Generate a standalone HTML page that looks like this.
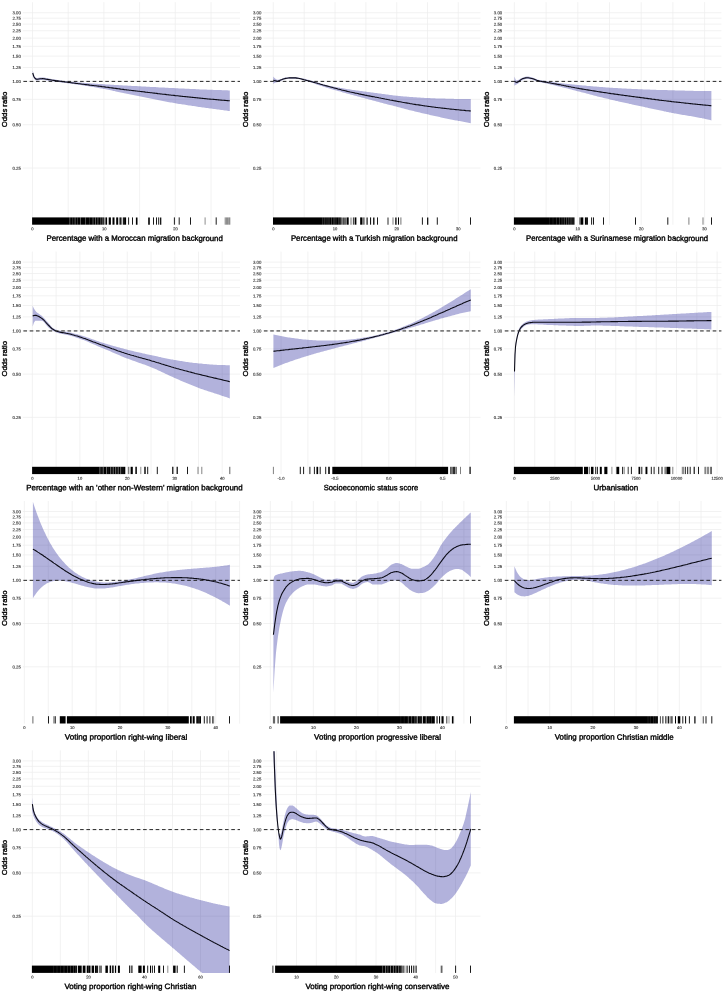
<!DOCTYPE html>
<html lang="en"><head><meta charset="utf-8"><title>Odds ratio smooth terms</title>
<style>
html,body{margin:0;padding:0;background:#fff}
body{width:724px;height:991px;overflow:hidden}
svg{display:block;font-family:"Liberation Sans",sans-serif}
</style></head><body>
<svg width="724" height="991" viewBox="0 0 724 991">
<rect width="724" height="991" fill="#fff"/>
<g id="p00">
<clipPath id="c00"><rect x="22.8" y="3" width="217.2" height="221.8"/></clipPath>
<path d="M22.8 12.7H240M22.8 18.2H240M22.8 24.1H240M22.8 30.7H240M22.8 38.1H240M22.8 46.4H240M22.8 56.1H240M22.8 67.5H240M22.8 81.4H240M22.8 99.4H240M22.8 124.7H240M22.8 168H240M32.5 2.2V224.8M68.2 2.2V224.8M103.9 2.2V224.8M139.6 2.2V224.8M175.3 2.2V224.8M211 2.2V224.8" stroke="#ededed" stroke-width="0.72" fill="none"/>
<g font-size="4.3" fill="#333" stroke="#333" stroke-width="0.13" text-anchor="end">
<text x="20.80" y="14.39" transform="rotate(0.04 20.80 14.39)">3.00</text>
<text x="20.80" y="19.82" transform="rotate(0.04 20.80 19.82)">2.75</text>
<text x="20.80" y="25.78" transform="rotate(0.04 20.80 25.78)">2.50</text>
<text x="20.80" y="32.37" transform="rotate(0.04 20.80 32.37)">2.25</text>
<text x="20.80" y="39.73" transform="rotate(0.04 20.80 39.73)">2.00</text>
<text x="20.80" y="48.07" transform="rotate(0.04 20.80 48.07)">1.75</text>
<text x="20.80" y="57.71" transform="rotate(0.04 20.80 57.71)">1.50</text>
<text x="20.80" y="69.10" transform="rotate(0.04 20.80 69.10)">1.25</text>
<text x="20.80" y="83.05" transform="rotate(0.04 20.80 83.05)">1.00</text>
<text x="20.80" y="101.03" transform="rotate(0.04 20.80 101.03)">0.75</text>
<text x="20.80" y="126.37" transform="rotate(0.04 20.80 126.37)">0.50</text>
<text x="20.80" y="169.69" transform="rotate(0.04 20.80 169.69)">0.25</text>
</g>
<g font-size="4.1" fill="#333" stroke="#333" stroke-width="0.13" text-anchor="middle">
<text x="32.50" y="230.30" transform="rotate(0.04 32.50 230.30)">0</text>
<text x="104.20" y="230.30" transform="rotate(0.04 104.20 230.30)">10</text>
<text x="175.50" y="230.30" transform="rotate(0.04 175.50 230.30)">20</text>
</g>
<path d="M32.7 70.6L33.9 75.1L35.2 77.2L36.4 78.1L37.7 78L38.9 77.8L40.1 77.6L41.4 77.5L42.6 77.4L43.9 77.5L45.1 77.8L46.3 78.1L47.6 78.3L48.8 78.5L50.1 78.8L51.3 79L52.5 79.2L53.8 79.4L55 79.6L56.3 79.8L57.5 80L58.7 80.2L60 80.4L61.2 80.6L62.5 80.7L63.7 80.9L64.9 81L66.2 81.2L67.4 81.3L68.6 81.5L69.9 81.6L71.1 81.7L72.4 81.8L73.6 81.9L74.8 82.1L76.1 82.2L77.3 82.3L78.6 82.4L79.8 82.5L81 82.6L82.3 82.7L83.5 82.8L84.8 82.9L86 83L87.2 83.1L88.5 83.2L89.7 83.3L91 83.4L92.2 83.5L93.4 83.5L94.7 83.6L95.9 83.7L97.2 83.8L98.4 83.9L99.6 84L100.9 84.1L102.1 84.1L103.4 84.2L104.6 84.3L105.8 84.4L107.1 84.5L108.3 84.5L109.6 84.6L110.8 84.7L112 84.8L113.3 84.8L114.5 84.9L115.8 85L117 85L118.2 85.1L119.5 85.2L120.7 85.2L122 85.3L123.2 85.4L124.4 85.5L125.7 85.5L126.9 85.6L128.2 85.7L129.4 85.7L130.6 85.8L131.9 85.9L133.1 85.9L134.3 86L135.6 86.1L136.8 86.1L138.1 86.2L139.3 86.3L140.5 86.3L141.8 86.4L143 86.5L144.3 86.5L145.5 86.6L146.7 86.7L148 86.7L149.2 86.8L150.5 86.9L151.7 86.9L152.9 87L154.2 87.1L155.4 87.1L156.7 87.2L157.9 87.3L159.1 87.4L160.4 87.4L161.6 87.5L162.9 87.5L164.1 87.6L165.3 87.7L166.6 87.7L167.8 87.8L169.1 87.9L170.3 87.9L171.5 88L172.8 88.1L174 88.1L175.3 88.2L176.5 88.2L177.7 88.3L179 88.4L180.2 88.4L181.5 88.5L182.7 88.5L183.9 88.6L185.2 88.7L186.4 88.7L187.7 88.8L188.9 88.8L190.1 88.9L191.4 89L192.6 89L193.9 89.1L195.1 89.1L196.3 89.2L197.6 89.2L198.8 89.3L200 89.4L201.3 89.4L202.5 89.5L203.8 89.5L205 89.6L206.2 89.6L207.5 89.7L208.7 89.7L210 89.8L211.2 89.8L212.4 89.8L213.7 89.9L214.9 89.9L216.2 90L217.4 90L218.6 90.1L219.9 90.1L221.1 90.1L222.4 90.2L223.6 90.2L224.8 90.3L226.1 90.3L227.3 90.3L228.6 90.4L229.8 90.4L229.8 111.1L228.6 110.9L227.3 110.8L226.1 110.6L224.8 110.5L223.6 110.3L222.4 110.1L221.1 110L219.9 109.8L218.6 109.6L217.4 109.5L216.2 109.3L214.9 109.1L213.7 108.9L212.4 108.8L211.2 108.6L210 108.4L208.7 108.3L207.5 108.1L206.2 107.9L205 107.7L203.8 107.6L202.5 107.4L201.3 107.2L200 107L198.8 106.9L197.6 106.7L196.3 106.5L195.1 106.3L193.9 106.1L192.6 106L191.4 105.8L190.1 105.6L188.9 105.4L187.7 105.2L186.4 105L185.2 104.8L183.9 104.6L182.7 104.5L181.5 104.3L180.2 104.1L179 103.9L177.7 103.7L176.5 103.5L175.3 103.2L174 103L172.8 102.8L171.5 102.6L170.3 102.4L169.1 102.2L167.8 101.9L166.6 101.7L165.3 101.5L164.1 101.2L162.9 101L161.6 100.8L160.4 100.5L159.1 100.3L157.9 100L156.7 99.8L155.4 99.5L154.2 99.3L152.9 99L151.7 98.8L150.5 98.5L149.2 98.3L148 98L146.7 97.8L145.5 97.5L144.3 97.3L143 97L141.8 96.8L140.5 96.5L139.3 96.3L138.1 96L136.8 95.8L135.6 95.5L134.3 95.3L133.1 95L131.9 94.8L130.6 94.5L129.4 94.3L128.2 94L126.9 93.7L125.7 93.5L124.4 93.2L123.2 93L122 92.7L120.7 92.4L119.5 92.2L118.2 91.9L117 91.7L115.8 91.4L114.5 91.1L113.3 90.9L112 90.6L110.8 90.3L109.6 90.1L108.3 89.8L107.1 89.6L105.8 89.3L104.6 89.1L103.4 88.9L102.1 88.6L100.9 88.4L99.6 88.2L98.4 88L97.2 87.7L95.9 87.5L94.7 87.3L93.4 87.1L92.2 86.9L91 86.7L89.7 86.5L88.5 86.3L87.2 86.1L86 85.9L84.8 85.7L83.5 85.5L82.3 85.3L81 85.1L79.8 85L78.6 84.8L77.3 84.6L76.1 84.4L74.8 84.2L73.6 84.1L72.4 83.9L71.1 83.7L69.9 83.5L68.6 83.4L67.4 83.2L66.2 83L64.9 82.9L63.7 82.7L62.5 82.6L61.2 82.4L60 82.3L58.7 82.1L57.5 82L56.3 81.8L55 81.7L53.8 81.5L52.5 81.3L51.3 81.2L50.1 81L48.8 80.8L47.6 80.6L46.3 80.4L45.1 80.1L43.9 79.9L42.6 79.8L41.4 79.9L40.1 80L38.9 80.2L37.7 80.4L36.4 80.5L35.2 79.9L33.9 78.5L32.7 75.6Z" fill="rgb(0,0,139)" fill-opacity="0.3" clip-path="url(#c00)"/>
<path d="M23.4 81.40H240" stroke="#1a1a1a" stroke-width="0.95" stroke-dasharray="3.6 2.7" fill="none"/>
<path d="M32.7 73L33.9 76.7L35.2 78.5L36.4 79.3L37.7 79.2L38.9 79L40.1 78.8L41.4 78.7L42.6 78.6L43.9 78.7L45.1 78.9L46.3 79.2L47.6 79.4L48.8 79.6L50.1 79.8L51.3 80L52.5 80.2L53.8 80.4L55 80.6L56.3 80.8L57.5 80.9L58.7 81.1L60 81.3L61.2 81.4L62.5 81.6L63.7 81.7L64.9 81.9L66.2 82L67.4 82.2L68.6 82.4L69.9 82.5L71.1 82.7L72.4 82.9L73.6 83L74.8 83.2L76.1 83.4L77.3 83.5L78.6 83.7L79.8 83.8L81 84L82.3 84.2L83.5 84.3L84.8 84.5L86 84.6L87.2 84.8L88.5 84.9L89.7 85.1L91 85.2L92.2 85.4L93.4 85.5L94.7 85.7L95.9 85.8L97.2 86L98.4 86.1L99.6 86.3L100.9 86.4L102.1 86.6L103.4 86.7L104.6 86.9L105.8 87.1L107.1 87.2L108.3 87.4L109.6 87.6L110.8 87.7L112 87.9L113.3 88.1L114.5 88.3L115.8 88.4L117 88.6L118.2 88.8L119.5 88.9L120.7 89.1L122 89.2L123.2 89.4L124.4 89.6L125.7 89.7L126.9 89.9L128.2 90L129.4 90.2L130.6 90.3L131.9 90.5L133.1 90.6L134.3 90.7L135.6 90.9L136.8 91L138.1 91.2L139.3 91.3L140.5 91.5L141.8 91.6L143 91.8L144.3 91.9L145.5 92.1L146.7 92.2L148 92.4L149.2 92.5L150.5 92.7L151.7 92.8L152.9 93L154.2 93.1L155.4 93.3L156.7 93.4L157.9 93.6L159.1 93.7L160.4 93.9L161.6 94L162.9 94.2L164.1 94.3L165.3 94.4L166.6 94.6L167.8 94.7L169.1 94.9L170.3 95L171.5 95.2L172.8 95.3L174 95.4L175.3 95.6L176.5 95.7L177.7 95.8L179 96L180.2 96.1L181.5 96.2L182.7 96.4L183.9 96.5L185.2 96.6L186.4 96.8L187.7 96.9L188.9 97L190.1 97.1L191.4 97.3L192.6 97.4L193.9 97.5L195.1 97.6L196.3 97.8L197.6 97.9L198.8 98L200 98.1L201.3 98.3L202.5 98.4L203.8 98.5L205 98.6L206.2 98.7L207.5 98.9L208.7 99L210 99.1L211.2 99.2L212.4 99.3L213.7 99.4L214.9 99.5L216.2 99.6L217.4 99.8L218.6 99.9L219.9 100L221.1 100.1L222.4 100.2L223.6 100.3L224.8 100.4L226.1 100.5L227.3 100.6L228.6 100.7L229.8 100.8" stroke="#0a0a14" stroke-width="1.08" fill="none" stroke-linejoin="round" clip-path="url(#c00)"/>
<path d="M128.6 217.4V224.7M132.5 217.4V224.7M153.5 217.4V224.7M156.5 217.4V224.7M158.7 217.4V224.7M174.4 217.4V224.7M179.2 217.4V224.7M190.5 217.4V224.7M216.2 217.4V224.7" stroke="#000" stroke-width="0.9" fill="none"/>
<path d="M136.7 217.4V224.7M149 217.4V224.7" stroke="#000" stroke-width="1.6" fill="none"/>
<path d="M160.7 217.4V224.7" stroke="#000" stroke-width="1.2" fill="none"/>
<path d="M205.1 217.4V224.7" stroke="#000" stroke-width="0.45" fill="none"/>
<path d="M225.2 217.4V224.7M226.4 217.4V224.7M227.6 217.4V224.7M228.8 217.4V224.7M229.8 217.4V224.7" stroke="#000" stroke-width="0.5" fill="none"/>
<rect x="32.1" y="217.4" width="72.3" height="7.3" fill="#000"/>
<rect x="105.4" y="217.4" width="1.7" height="7.3" fill="#000"/>
<rect x="108.7" y="217.4" width="2.2" height="7.3" fill="#000"/>
<rect x="112.5" y="217.4" width="2" height="7.3" fill="#000"/>
<rect x="116.2" y="217.4" width="2" height="7.3" fill="#000"/>
<rect x="119.5" y="217.4" width="2" height="7.3" fill="#000"/>
<rect x="122.8" y="217.4" width="3.3" height="7.3" fill="#000"/>
<path d="M69.8 217.2V224.9M75.1 217.2V224.9M80.5 217.2V224.9M93 217.2V224.9M95.5 217.2V224.9M97.9 217.2V224.9M100.8 217.2V224.9" stroke="#fff" stroke-opacity="0.7" stroke-width="0.5" fill="none"/>
<path d="M72.7 217.2V224.9M77.5 217.2V224.9M123.9 217.2V224.9" stroke="#fff" stroke-opacity="0.5" stroke-width="0.4" fill="none"/>
<path d="M85.5 217.2V224.9" stroke="#fff" stroke-opacity="0.6" stroke-width="0.5" fill="none"/>
<path d="M89.5 217.2V224.9" stroke="#fff" stroke-opacity="0.4" stroke-width="0.4" fill="none"/>
<path d="M102.9 217.2V224.9" stroke="#fff" stroke-opacity="0.8" stroke-width="0.6" fill="none"/>
<path d="M120.5 217.2V224.9" stroke="#fff" stroke-opacity="0.4" stroke-width="0.3" fill="none"/>
<text x="46.5" y="240.8" transform="rotate(0.03 46.5 240.8)" font-size="7.8" fill="#000" stroke="#000" stroke-width="0.36" textLength="176.3" lengthAdjust="spacingAndGlyphs">Percentage with a Moroccan migration background</text>
<text transform="translate(7.3 109.4) rotate(-90)" font-size="7.8" fill="#000" stroke="#000" stroke-width="0.36" text-anchor="middle" textLength="35.5" lengthAdjust="spacingAndGlyphs">Odds ratio</text>
</g>
<g id="p01">
<clipPath id="c01"><rect x="263.3" y="3" width="217.2" height="221.8"/></clipPath>
<path d="M263.3 12.7H480.5M263.3 18.2H480.5M263.3 24.1H480.5M263.3 30.7H480.5M263.3 38.1H480.5M263.3 46.4H480.5M263.3 56.1H480.5M263.3 67.5H480.5M263.3 81.4H480.5M263.3 99.4H480.5M263.3 124.7H480.5M263.3 168H480.5M273.3 2.2V224.8M304.2 2.2V224.8M335 2.2V224.8M365.9 2.2V224.8M396.7 2.2V224.8M427.5 2.2V224.8M458.3 2.2V224.8" stroke="#ededed" stroke-width="0.72" fill="none"/>
<g font-size="4.3" fill="#333" stroke="#333" stroke-width="0.13" text-anchor="end">
<text x="261.30" y="14.39" transform="rotate(0.04 261.30 14.39)">3.00</text>
<text x="261.30" y="19.82" transform="rotate(0.04 261.30 19.82)">2.75</text>
<text x="261.30" y="25.78" transform="rotate(0.04 261.30 25.78)">2.50</text>
<text x="261.30" y="32.37" transform="rotate(0.04 261.30 32.37)">2.25</text>
<text x="261.30" y="39.73" transform="rotate(0.04 261.30 39.73)">2.00</text>
<text x="261.30" y="48.07" transform="rotate(0.04 261.30 48.07)">1.75</text>
<text x="261.30" y="57.71" transform="rotate(0.04 261.30 57.71)">1.50</text>
<text x="261.30" y="69.10" transform="rotate(0.04 261.30 69.10)">1.25</text>
<text x="261.30" y="83.05" transform="rotate(0.04 261.30 83.05)">1.00</text>
<text x="261.30" y="101.03" transform="rotate(0.04 261.30 101.03)">0.75</text>
<text x="261.30" y="126.37" transform="rotate(0.04 261.30 126.37)">0.50</text>
<text x="261.30" y="169.69" transform="rotate(0.04 261.30 169.69)">0.25</text>
</g>
<g font-size="4.1" fill="#333" stroke="#333" stroke-width="0.13" text-anchor="middle">
<text x="273.30" y="230.30" transform="rotate(0.04 273.30 230.30)">0</text>
<text x="335.00" y="230.30" transform="rotate(0.04 335.00 230.30)">10</text>
<text x="396.70" y="230.30" transform="rotate(0.04 396.70 230.30)">20</text>
<text x="458.30" y="230.30" transform="rotate(0.04 458.30 230.30)">30</text>
</g>
<path d="M273.3 76.6L274.5 78.1L275.8 79.1L277 79.7L278.2 79.7L279.5 79.5L280.7 79.2L282 78.8L283.2 78.3L284.4 77.8L285.7 77.6L286.9 77.4L288.2 77.2L289.4 77.1L290.7 77.1L291.9 77.1L293.1 77.1L294.4 77.1L295.6 77.1L296.9 77.2L298.1 77.4L299.4 77.7L300.6 77.9L301.8 78.2L303.1 78.5L304.3 78.8L305.6 79.1L306.8 79.4L308.1 79.7L309.3 80L310.5 80.4L311.8 80.7L313 81.1L314.3 81.4L315.5 81.8L316.7 82.2L318 82.6L319.2 83L320.5 83.3L321.7 83.7L323 84.1L324.2 84.4L325.4 84.8L326.7 85.1L327.9 85.4L329.2 85.7L330.4 85.9L331.7 86.2L332.9 86.4L334.1 86.7L335.4 86.9L336.6 87.2L337.9 87.4L339.1 87.6L340.4 87.9L341.6 88.1L342.8 88.3L344.1 88.5L345.3 88.8L346.6 89L347.8 89.2L349.1 89.3L350.3 89.5L351.5 89.7L352.8 89.9L354 90.1L355.3 90.2L356.5 90.4L357.7 90.6L359 90.7L360.2 90.9L361.5 91.1L362.7 91.2L364 91.4L365.2 91.6L366.4 91.7L367.7 91.9L368.9 92.1L370.2 92.3L371.4 92.4L372.7 92.6L373.9 92.8L375.1 92.9L376.4 93.1L377.6 93.3L378.9 93.4L380.1 93.6L381.4 93.8L382.6 93.9L383.8 94.1L385.1 94.3L386.3 94.4L387.6 94.6L388.8 94.8L390 94.9L391.3 95.1L392.5 95.2L393.8 95.4L395 95.5L396.3 95.7L397.5 95.8L398.7 95.9L400 96L401.2 96.2L402.5 96.3L403.7 96.4L405 96.5L406.2 96.6L407.4 96.7L408.7 96.8L409.9 96.9L411.2 97L412.4 97.1L413.7 97.2L414.9 97.3L416.1 97.3L417.4 97.4L418.6 97.5L419.9 97.6L421.1 97.7L422.3 97.7L423.6 97.8L424.8 97.9L426.1 97.9L427.3 98L428.6 98.1L429.8 98.1L431 98.2L432.3 98.2L433.5 98.3L434.8 98.3L436 98.4L437.3 98.4L438.5 98.5L439.7 98.5L441 98.5L442.2 98.6L443.5 98.6L444.7 98.6L446 98.7L447.2 98.7L448.4 98.7L449.7 98.8L450.9 98.8L452.2 98.8L453.4 98.8L454.6 98.9L455.9 98.9L457.1 98.9L458.4 98.9L459.6 98.9L460.9 98.9L462.1 98.9L463.3 99L464.6 99L465.8 99L467.1 99L468.3 99L469.6 99L470.8 99L470.8 123.2L469.6 123L468.3 122.7L467.1 122.5L465.8 122.3L464.6 122.1L463.3 121.8L462.1 121.6L460.9 121.3L459.6 121.1L458.4 120.9L457.1 120.6L455.9 120.4L454.6 120.2L453.4 119.9L452.2 119.7L450.9 119.4L449.7 119.2L448.4 118.9L447.2 118.7L446 118.4L444.7 118.2L443.5 117.9L442.2 117.7L441 117.4L439.7 117.1L438.5 116.8L437.3 116.6L436 116.3L434.8 116L433.5 115.7L432.3 115.4L431 115.2L429.8 114.9L428.6 114.6L427.3 114.3L426.1 114L424.8 113.7L423.6 113.5L422.3 113.2L421.1 112.9L419.9 112.6L418.6 112.3L417.4 112L416.1 111.7L414.9 111.4L413.7 111.1L412.4 110.8L411.2 110.5L409.9 110.2L408.7 109.9L407.4 109.6L406.2 109.3L405 108.9L403.7 108.6L402.5 108.3L401.2 107.9L400 107.6L398.7 107.3L397.5 106.9L396.3 106.6L395 106.3L393.8 106L392.5 105.6L391.3 105.3L390 105L388.8 104.7L387.6 104.4L386.3 104L385.1 103.7L383.8 103.4L382.6 103.1L381.4 102.8L380.1 102.4L378.9 102.1L377.6 101.8L376.4 101.4L375.1 101.1L373.9 100.8L372.7 100.4L371.4 100.1L370.2 99.8L368.9 99.4L367.7 99.1L366.4 98.8L365.2 98.4L364 98.1L362.7 97.8L361.5 97.4L360.2 97.1L359 96.8L357.7 96.4L356.5 96.1L355.3 95.8L354 95.4L352.8 95.1L351.5 94.8L350.3 94.4L349.1 94.1L347.8 93.7L346.6 93.4L345.3 93.1L344.1 92.7L342.8 92.4L341.6 92L340.4 91.6L339.1 91.3L337.9 90.9L336.6 90.6L335.4 90.2L334.1 89.9L332.9 89.5L331.7 89.2L330.4 88.8L329.2 88.5L327.9 88.1L326.7 87.7L325.4 87.3L324.2 86.9L323 86.5L321.7 86.1L320.5 85.7L319.2 85.3L318 84.9L316.7 84.5L315.5 84L314.3 83.6L313 83.1L311.8 82.7L310.5 82.3L309.3 82L308.1 81.6L306.8 81.3L305.6 80.9L304.3 80.6L303.1 80.2L301.8 79.9L300.6 79.6L299.4 79.3L298.1 79.1L296.9 78.9L295.6 78.8L294.4 78.7L293.1 78.7L291.9 78.7L290.7 78.7L289.4 78.7L288.2 78.8L286.9 79L285.7 79.2L284.4 79.5L283.2 79.9L282 80.5L280.7 81.1L279.5 81.6L278.2 82L277 82.3L275.8 82.4L274.5 83L273.3 84Z" fill="rgb(0,0,139)" fill-opacity="0.3" clip-path="url(#c01)"/>
<path d="M263.9 81.40H480.5" stroke="#1a1a1a" stroke-width="0.95" stroke-dasharray="3.6 2.7" fill="none"/>
<path d="M273.3 80.2L274.5 80.6L275.8 80.9L277 81.2L278.2 81.1L279.5 80.6L280.7 80.1L282 79.6L283.2 79.1L284.4 78.7L285.7 78.4L286.9 78.2L288.2 78L289.4 77.9L290.7 77.9L291.9 77.9L293.1 77.9L294.4 77.9L295.6 77.9L296.9 78.1L298.1 78.3L299.4 78.5L300.6 78.7L301.8 79.1L303.1 79.4L304.3 79.8L305.6 80.1L306.8 80.4L308.1 80.7L309.3 81L310.5 81.4L311.8 81.7L313 82.1L314.3 82.4L315.5 82.8L316.7 83.1L318 83.5L319.2 83.8L320.5 84.2L321.7 84.5L323 84.9L324.2 85.2L325.4 85.6L326.7 85.9L327.9 86.2L329.2 86.6L330.4 86.9L331.7 87.2L332.9 87.6L334.1 87.9L335.4 88.2L336.6 88.5L337.9 88.9L339.1 89.2L340.4 89.5L341.6 89.9L342.8 90.2L344.1 90.5L345.3 90.8L346.6 91.1L347.8 91.4L349.1 91.7L350.3 92L351.5 92.2L352.8 92.5L354 92.8L355.3 93.1L356.5 93.3L357.7 93.6L359 93.9L360.2 94.1L361.5 94.4L362.7 94.6L364 94.9L365.2 95.2L366.4 95.4L367.7 95.7L368.9 95.9L370.2 96.1L371.4 96.4L372.7 96.6L373.9 96.8L375.1 97.1L376.4 97.3L377.6 97.5L378.9 97.8L380.1 98L381.4 98.3L382.6 98.5L383.8 98.7L385.1 99L386.3 99.2L387.6 99.5L388.8 99.7L390 100L391.3 100.2L392.5 100.4L393.8 100.7L395 100.9L396.3 101.1L397.5 101.4L398.7 101.6L400 101.8L401.2 102L402.5 102.3L403.7 102.5L405 102.7L406.2 102.9L407.4 103.1L408.7 103.3L409.9 103.6L411.2 103.8L412.4 104L413.7 104.2L414.9 104.4L416.1 104.6L417.4 104.7L418.6 104.9L419.9 105.1L421.1 105.3L422.3 105.5L423.6 105.7L424.8 105.9L426.1 106L427.3 106.2L428.6 106.4L429.8 106.5L431 106.7L432.3 106.9L433.5 107L434.8 107.2L436 107.4L437.3 107.5L438.5 107.7L439.7 107.8L441 108L442.2 108.1L443.5 108.3L444.7 108.4L446 108.5L447.2 108.7L448.4 108.8L449.7 109L450.9 109.1L452.2 109.2L453.4 109.3L454.6 109.5L455.9 109.6L457.1 109.7L458.4 109.8L459.6 110L460.9 110.1L462.1 110.2L463.3 110.3L464.6 110.4L465.8 110.6L467.1 110.7L468.3 110.8L469.6 110.9L470.8 111" stroke="#0a0a14" stroke-width="1.08" fill="none" stroke-linejoin="round" clip-path="url(#c01)"/>
<path d="M343.1 217.4V224.7M345 217.4V224.7M427.7 217.4V224.7" stroke="#000" stroke-width="1.2" fill="none"/>
<path d="M347.6 217.4V224.7" stroke="#000" stroke-width="2.2" fill="none"/>
<path d="M351 217.4V224.7" stroke="#000" stroke-width="1.1" stroke-opacity="0.5" fill="none"/>
<path d="M353.4 217.4V224.7" stroke="#000" stroke-width="0.8" fill="none"/>
<path d="M355.5 217.4V224.7" stroke="#000" stroke-width="1.8" fill="none"/>
<path d="M361.1 217.4V224.7" stroke="#000" stroke-width="1.9" fill="none"/>
<path d="M363.4 217.4V224.7" stroke="#000" stroke-width="2.6" stroke-opacity="0.55" fill="none"/>
<path d="M367.1 217.4V224.7" stroke="#000" stroke-width="1.1" fill="none"/>
<path d="M370.6 217.4V224.7M398.5 217.4V224.7" stroke="#000" stroke-width="1.0" fill="none"/>
<path d="M373.8 217.4V224.7M395.9 217.4V224.7" stroke="#000" stroke-width="1.3" fill="none"/>
<path d="M377.5 217.4V224.7M422.4 217.4V224.7M437.3 217.4V224.7M470.5 217.4V224.7" stroke="#000" stroke-width="0.9" fill="none"/>
<path d="M388 217.4V224.7" stroke="#000" stroke-width="1.4" stroke-opacity="0.6" fill="none"/>
<path d="M393 217.4V224.7" stroke="#000" stroke-width="1.0" stroke-opacity="0.5" fill="none"/>
<path d="M400.9 217.4V224.7" stroke="#000" stroke-width="1.0" stroke-opacity="0.55" fill="none"/>
<rect x="273" y="217.4" width="68.6" height="7.3" fill="#000"/>
<path d="M322.7 217.2V224.9M327 217.2V224.9M336 217.2V224.9M340.6 217.2V224.9" stroke="#fff" stroke-opacity="0.5" stroke-width="0.4" fill="none"/>
<path d="M324.8 217.2V224.9M329 217.2V224.9M331.5 217.2V224.9" stroke="#fff" stroke-opacity="0.6" stroke-width="0.4" fill="none"/>
<path d="M334 217.2V224.9M338.9 217.2V224.9" stroke="#fff" stroke-opacity="0.6" stroke-width="0.5" fill="none"/>
<text x="290.9" y="240.8" transform="rotate(0.03 290.9 240.8)" font-size="7.8" fill="#000" stroke="#000" stroke-width="0.36" textLength="166.6" lengthAdjust="spacingAndGlyphs">Percentage with a Turkish migration background</text>
<text transform="translate(247.8 109.4) rotate(-90)" font-size="7.8" fill="#000" stroke="#000" stroke-width="0.36" text-anchor="middle" textLength="35.5" lengthAdjust="spacingAndGlyphs">Odds ratio</text>
</g>
<g id="p02">
<clipPath id="c02"><rect x="504.2" y="3" width="217.2" height="221.8"/></clipPath>
<path d="M504.2 12.7H721.4M504.2 18.2H721.4M504.2 24.1H721.4M504.2 30.7H721.4M504.2 38.1H721.4M504.2 46.4H721.4M504.2 56.1H721.4M504.2 67.5H721.4M504.2 81.4H721.4M504.2 99.4H721.4M504.2 124.7H721.4M504.2 168H721.4M514.4 2.2V224.8M546.1 2.2V224.8M577.8 2.2V224.8M609.5 2.2V224.8M641.2 2.2V224.8M672.9 2.2V224.8M704.6 2.2V224.8" stroke="#ededed" stroke-width="0.72" fill="none"/>
<g font-size="4.3" fill="#333" stroke="#333" stroke-width="0.13" text-anchor="end">
<text x="502.20" y="14.39" transform="rotate(0.04 502.20 14.39)">3.00</text>
<text x="502.20" y="19.82" transform="rotate(0.04 502.20 19.82)">2.75</text>
<text x="502.20" y="25.78" transform="rotate(0.04 502.20 25.78)">2.50</text>
<text x="502.20" y="32.37" transform="rotate(0.04 502.20 32.37)">2.25</text>
<text x="502.20" y="39.73" transform="rotate(0.04 502.20 39.73)">2.00</text>
<text x="502.20" y="48.07" transform="rotate(0.04 502.20 48.07)">1.75</text>
<text x="502.20" y="57.71" transform="rotate(0.04 502.20 57.71)">1.50</text>
<text x="502.20" y="69.10" transform="rotate(0.04 502.20 69.10)">1.25</text>
<text x="502.20" y="83.05" transform="rotate(0.04 502.20 83.05)">1.00</text>
<text x="502.20" y="101.03" transform="rotate(0.04 502.20 101.03)">0.75</text>
<text x="502.20" y="126.37" transform="rotate(0.04 502.20 126.37)">0.50</text>
<text x="502.20" y="169.69" transform="rotate(0.04 502.20 169.69)">0.25</text>
</g>
<g font-size="4.1" fill="#333" stroke="#333" stroke-width="0.13" text-anchor="middle">
<text x="514.40" y="230.30" transform="rotate(0.04 514.40 230.30)">0</text>
<text x="577.80" y="230.30" transform="rotate(0.04 577.80 230.30)">10</text>
<text x="641.20" y="230.30" transform="rotate(0.04 641.20 230.30)">20</text>
<text x="704.60" y="230.30" transform="rotate(0.04 704.60 230.30)">30</text>
</g>
<path d="M514.4 76.6L515.7 79.7L516.9 80.5L518.2 80.1L519.4 79.5L520.6 78.6L521.9 77.9L523.1 77.5L524.3 77L525.6 76.7L526.8 76.6L528.1 76.6L529.3 76.8L530.5 77.1L531.8 77.3L533 77.7L534.3 78.2L535.5 78.8L536.7 79.3L538 79.7L539.2 79.9L540.5 80.2L541.7 80.4L542.9 80.6L544.2 80.8L545.4 81L546.7 81.2L547.9 81.4L549.1 81.6L550.4 81.8L551.6 82L552.8 82.1L554.1 82.3L555.3 82.5L556.6 82.6L557.8 82.8L559 82.9L560.3 83.1L561.5 83.2L562.8 83.4L564 83.5L565.2 83.7L566.5 83.8L567.7 83.9L569 84.1L570.2 84.2L571.4 84.3L572.7 84.4L573.9 84.6L575.1 84.7L576.4 84.8L577.6 84.9L578.9 85L580.1 85.2L581.3 85.3L582.6 85.4L583.8 85.5L585.1 85.6L586.3 85.7L587.5 85.9L588.8 86L590 86.1L591.3 86.2L592.5 86.3L593.7 86.4L595 86.5L596.2 86.6L597.4 86.7L598.7 86.8L599.9 86.9L601.2 87L602.4 87.1L603.6 87.2L604.9 87.3L606.1 87.4L607.4 87.5L608.6 87.6L609.8 87.7L611.1 87.7L612.3 87.8L613.6 87.9L614.8 88L616 88L617.3 88.1L618.5 88.2L619.7 88.3L621 88.3L622.2 88.4L623.5 88.5L624.7 88.5L625.9 88.6L627.2 88.7L628.4 88.7L629.7 88.8L630.9 88.8L632.1 88.9L633.4 89L634.6 89L635.9 89.1L637.1 89.1L638.3 89.2L639.6 89.2L640.8 89.3L642.1 89.3L643.3 89.4L644.5 89.4L645.8 89.5L647 89.5L648.2 89.6L649.5 89.6L650.7 89.7L652 89.7L653.2 89.7L654.4 89.8L655.7 89.8L656.9 89.9L658.2 89.9L659.4 89.9L660.6 90L661.9 90L663.1 90L664.4 90.1L665.6 90.1L666.8 90.1L668.1 90.2L669.3 90.2L670.5 90.2L671.8 90.3L673 90.3L674.3 90.3L675.5 90.4L676.7 90.4L678 90.4L679.2 90.5L680.5 90.5L681.7 90.6L682.9 90.6L684.2 90.6L685.4 90.7L686.7 90.7L687.9 90.7L689.1 90.8L690.4 90.8L691.6 90.8L692.8 90.8L694.1 90.9L695.3 90.9L696.6 90.9L697.8 90.9L699 90.9L700.3 91L701.5 91L702.8 91L704 91L705.2 91L706.5 91L707.7 91L709 91L710.2 91L711.4 91L711.4 120.4L710.2 120.1L709 119.8L707.7 119.5L706.5 119.2L705.2 118.9L704 118.6L702.8 118.4L701.5 118.1L700.3 117.9L699 117.7L697.8 117.4L696.6 117.2L695.3 117L694.1 116.8L692.8 116.6L691.6 116.3L690.4 116.1L689.1 115.9L687.9 115.7L686.7 115.5L685.4 115.3L684.2 115.1L682.9 114.9L681.7 114.7L680.5 114.5L679.2 114.3L678 114L676.7 113.8L675.5 113.6L674.3 113.4L673 113.1L671.8 112.9L670.5 112.6L669.3 112.4L668.1 112.1L666.8 111.9L665.6 111.6L664.4 111.4L663.1 111.1L661.9 110.8L660.6 110.6L659.4 110.3L658.2 110.1L656.9 109.8L655.7 109.5L654.4 109.2L653.2 109L652 108.7L650.7 108.4L649.5 108.2L648.2 107.9L647 107.6L645.8 107.4L644.5 107.1L643.3 106.8L642.1 106.5L640.8 106.3L639.6 106L638.3 105.7L637.1 105.5L635.9 105.2L634.6 104.9L633.4 104.7L632.1 104.4L630.9 104.1L629.7 103.9L628.4 103.6L627.2 103.3L625.9 103.1L624.7 102.8L623.5 102.5L622.2 102.2L621 102L619.7 101.7L618.5 101.4L617.3 101.1L616 100.9L614.8 100.6L613.6 100.3L612.3 100L611.1 99.7L609.8 99.4L608.6 99.1L607.4 98.8L606.1 98.5L604.9 98.2L603.6 97.9L602.4 97.6L601.2 97.3L599.9 97L598.7 96.7L597.4 96.4L596.2 96L595 95.7L593.7 95.4L592.5 95.1L591.3 94.8L590 94.4L588.8 94.1L587.5 93.8L586.3 93.5L585.1 93.1L583.8 92.8L582.6 92.5L581.3 92.2L580.1 91.8L578.9 91.5L577.6 91.2L576.4 90.9L575.1 90.6L573.9 90.3L572.7 89.9L571.4 89.6L570.2 89.3L569 89L567.7 88.6L566.5 88.3L565.2 88L564 87.7L562.8 87.4L561.5 87.1L560.3 86.8L559 86.5L557.8 86.2L556.6 85.9L555.3 85.6L554.1 85.3L552.8 85L551.6 84.7L550.4 84.4L549.1 84.1L547.9 83.8L546.7 83.6L545.4 83.3L544.2 83L542.9 82.7L541.7 82.5L540.5 82.2L539.2 81.9L538 81.6L536.7 81.3L535.5 80.8L534.3 80.4L533 80L531.8 79.6L530.5 79.4L529.3 79.1L528.1 79L526.8 78.9L525.6 79L524.3 79.4L523.1 79.9L521.9 80.4L520.6 81.3L519.4 82.5L518.2 83.5L516.9 84.2L515.7 84.8L514.4 85.7Z" fill="rgb(0,0,139)" fill-opacity="0.3" clip-path="url(#c02)"/>
<path d="M504.8 81.40H721.4" stroke="#1a1a1a" stroke-width="0.95" stroke-dasharray="3.6 2.7" fill="none"/>
<path d="M514.4 81.2L515.7 82.1L516.9 82.4L518.2 81.8L519.4 81L520.6 79.9L521.9 79.1L523.1 78.6L524.3 78.2L525.6 77.9L526.8 77.7L528.1 77.8L529.3 78L530.5 78.2L531.8 78.5L533 78.8L534.3 79.3L535.5 79.8L536.7 80.3L538 80.6L539.2 80.9L540.5 81.2L541.7 81.4L542.9 81.7L544.2 81.9L545.4 82.1L546.7 82.3L547.9 82.6L549.1 82.8L550.4 83L551.6 83.3L552.8 83.5L554.1 83.7L555.3 83.9L556.6 84.1L557.8 84.4L559 84.6L560.3 84.8L561.5 85.1L562.8 85.3L564 85.6L565.2 85.8L566.5 86.1L567.7 86.3L569 86.6L570.2 86.8L571.4 87.1L572.7 87.3L573.9 87.5L575.1 87.8L576.4 88L577.6 88.2L578.9 88.4L580.1 88.7L581.3 88.9L582.6 89.1L583.8 89.3L585.1 89.5L586.3 89.7L587.5 89.9L588.8 90.1L590 90.3L591.3 90.5L592.5 90.7L593.7 90.9L595 91.1L596.2 91.3L597.4 91.5L598.7 91.7L599.9 91.9L601.2 92.1L602.4 92.3L603.6 92.5L604.9 92.6L606.1 92.8L607.4 93L608.6 93.2L609.8 93.4L611.1 93.6L612.3 93.7L613.6 93.9L614.8 94.1L616 94.3L617.3 94.4L618.5 94.6L619.7 94.8L621 95L622.2 95.1L623.5 95.3L624.7 95.5L625.9 95.6L627.2 95.8L628.4 96L629.7 96.1L630.9 96.3L632.1 96.5L633.4 96.6L634.6 96.8L635.9 97L637.1 97.1L638.3 97.3L639.6 97.4L640.8 97.6L642.1 97.8L643.3 97.9L644.5 98.1L645.8 98.3L647 98.4L648.2 98.6L649.5 98.8L650.7 98.9L652 99.1L653.2 99.2L654.4 99.4L655.7 99.6L656.9 99.7L658.2 99.9L659.4 100.1L660.6 100.2L661.9 100.4L663.1 100.5L664.4 100.7L665.6 100.8L666.8 101L668.1 101.1L669.3 101.3L670.5 101.4L671.8 101.6L673 101.7L674.3 101.9L675.5 102L676.7 102.1L678 102.3L679.2 102.4L680.5 102.5L681.7 102.7L682.9 102.8L684.2 103L685.4 103.1L686.7 103.2L687.9 103.3L689.1 103.5L690.4 103.6L691.6 103.7L692.8 103.9L694.1 104L695.3 104.1L696.6 104.2L697.8 104.4L699 104.5L700.3 104.6L701.5 104.7L702.8 104.9L704 105L705.2 105.1L706.5 105.2L707.7 105.3L709 105.5L710.2 105.6L711.4 105.7" stroke="#0a0a14" stroke-width="1.08" fill="none" stroke-linejoin="round" clip-path="url(#c02)"/>
<path d="M579.6 217.4V224.7M688.9 217.4V224.7M703 217.4V224.7" stroke="#000" stroke-width="0.5" fill="none"/>
<path d="M591.6 217.4V224.7M593.5 217.4V224.7M603.5 217.4V224.7M635.5 217.4V224.7M667.8 217.4V224.7M711.5 217.4V224.7" stroke="#000" stroke-width="0.9" fill="none"/>
<rect x="513.9" y="217.4" width="60.6" height="7.3" fill="#000"/>
<rect x="584.9" y="217.4" width="3" height="7.3" fill="#000"/>
<rect x="580.4" y="217.4" width="2.9" height="7.3" fill="#000"/>
<path d="M549.5 217.2V224.9" stroke="#fff" stroke-opacity="0.3" stroke-width="0.3" fill="none"/>
<path d="M553 217.2V224.9" stroke="#fff" stroke-opacity="0.35" stroke-width="0.3" fill="none"/>
<path d="M556.5 217.2V224.9" stroke="#fff" stroke-opacity="0.4" stroke-width="0.4" fill="none"/>
<path d="M559.5 217.2V224.9M562 217.2V224.9M573 217.2V224.9" stroke="#fff" stroke-opacity="0.5" stroke-width="0.4" fill="none"/>
<path d="M564.3 217.2V224.9" stroke="#fff" stroke-opacity="0.55" stroke-width="0.5" fill="none"/>
<path d="M566.6 217.2V224.9M568.8 217.2V224.9" stroke="#fff" stroke-opacity="0.6" stroke-width="0.5" fill="none"/>
<path d="M571 217.2V224.9" stroke="#fff" stroke-opacity="0.65" stroke-width="0.5" fill="none"/>
<path d="M586.4 217.2V224.9" stroke="#fff" stroke-opacity="0.4" stroke-width="0.3" fill="none"/>
<text x="526" y="240.8" transform="rotate(0.03 526 240.8)" font-size="7.8" fill="#000" stroke="#000" stroke-width="0.36" textLength="182.1" lengthAdjust="spacingAndGlyphs">Percentage with a Surinamese migration background</text>
<text transform="translate(488.7 109.4) rotate(-90)" font-size="7.8" fill="#000" stroke="#000" stroke-width="0.36" text-anchor="middle" textLength="35.5" lengthAdjust="spacingAndGlyphs">Odds ratio</text>
</g>
<g id="p10">
<clipPath id="c10"><rect x="22.8" y="252.4" width="217.2" height="221.8"/></clipPath>
<path d="M22.8 262.1H240M22.8 267.6H240M22.8 273.5H240M22.8 280.1H240M22.8 287.5H240M22.8 295.8H240M22.8 305.5H240M22.8 316.9H240M22.8 330.8H240M22.8 348.8H240M22.8 374.1H240M22.8 417.4H240M32.4 251.6V474.2M56.1 251.6V474.2M79.9 251.6V474.2M103.6 251.6V474.2M127.3 251.6V474.2M151 251.6V474.2M174.8 251.6V474.2M198.5 251.6V474.2M222.2 251.6V474.2" stroke="#ededed" stroke-width="0.72" fill="none"/>
<g font-size="4.3" fill="#333" stroke="#333" stroke-width="0.13" text-anchor="end">
<text x="20.80" y="263.79" transform="rotate(0.04 20.80 263.79)">3.00</text>
<text x="20.80" y="269.22" transform="rotate(0.04 20.80 269.22)">2.75</text>
<text x="20.80" y="275.18" transform="rotate(0.04 20.80 275.18)">2.50</text>
<text x="20.80" y="281.77" transform="rotate(0.04 20.80 281.77)">2.25</text>
<text x="20.80" y="289.13" transform="rotate(0.04 20.80 289.13)">2.00</text>
<text x="20.80" y="297.47" transform="rotate(0.04 20.80 297.47)">1.75</text>
<text x="20.80" y="307.11" transform="rotate(0.04 20.80 307.11)">1.50</text>
<text x="20.80" y="318.50" transform="rotate(0.04 20.80 318.50)">1.25</text>
<text x="20.80" y="332.45" transform="rotate(0.04 20.80 332.45)">1.00</text>
<text x="20.80" y="350.43" transform="rotate(0.04 20.80 350.43)">0.75</text>
<text x="20.80" y="375.77" transform="rotate(0.04 20.80 375.77)">0.50</text>
<text x="20.80" y="419.09" transform="rotate(0.04 20.80 419.09)">0.25</text>
</g>
<g font-size="4.1" fill="#333" stroke="#333" stroke-width="0.13" text-anchor="middle">
<text x="32.40" y="479.70" transform="rotate(0.04 32.40 479.70)">0</text>
<text x="79.90" y="479.70" transform="rotate(0.04 79.90 479.70)">10</text>
<text x="127.30" y="479.70" transform="rotate(0.04 127.30 479.70)">20</text>
<text x="174.80" y="479.70" transform="rotate(0.04 174.80 479.70)">30</text>
<text x="222.20" y="479.70" transform="rotate(0.04 222.20 479.70)">40</text>
</g>
<path d="M32.7 305.8L33.9 308.5L35.2 310.6L36.4 312L37.7 313L38.9 313.8L40.1 314.7L41.4 315.6L42.6 316.8L43.9 318L45.1 319.3L46.3 320.7L47.6 322L48.8 323.4L50.1 324.9L51.3 326.4L52.5 327.7L53.8 328.5L55 329.2L56.3 329.7L57.5 330.1L58.7 330.5L60 330.8L61.2 331L62.5 331.2L63.7 331.4L64.9 331.6L66.2 331.8L67.4 332L68.6 332.3L69.9 332.5L71.1 332.8L72.4 333.1L73.6 333.4L74.8 333.7L76.1 334L77.3 334.3L78.6 334.7L79.8 335L81 335.4L82.3 335.8L83.5 336.2L84.8 336.6L86 337L87.2 337.4L88.5 337.8L89.7 338.3L91 338.7L92.2 339.2L93.4 339.6L94.7 340L95.9 340.5L97.2 340.9L98.4 341.3L99.6 341.8L100.9 342.2L102.1 342.6L103.4 342.9L104.6 343.3L105.8 343.7L107.1 344.1L108.3 344.4L109.6 344.8L110.8 345.2L112 345.5L113.3 345.9L114.5 346.2L115.8 346.6L117 346.9L118.2 347.3L119.5 347.6L120.7 348L122 348.3L123.2 348.6L124.4 348.9L125.7 349.3L126.9 349.6L128.2 349.9L129.4 350.2L130.6 350.5L131.9 350.8L133.1 351.1L134.3 351.4L135.6 351.7L136.8 352L138.1 352.2L139.3 352.5L140.5 352.8L141.8 353.1L143 353.4L144.3 353.6L145.5 353.9L146.7 354.2L148 354.4L149.2 354.7L150.5 355L151.7 355.2L152.9 355.5L154.2 355.8L155.4 356.1L156.7 356.3L157.9 356.6L159.1 356.9L160.4 357.1L161.6 357.4L162.9 357.7L164.1 357.9L165.3 358.2L166.6 358.5L167.8 358.7L169.1 359L170.3 359.2L171.5 359.4L172.8 359.6L174 359.9L175.3 360.1L176.5 360.3L177.7 360.5L179 360.7L180.2 360.9L181.5 361.1L182.7 361.3L183.9 361.5L185.2 361.7L186.4 361.9L187.7 362L188.9 362.2L190.1 362.4L191.4 362.6L192.6 362.7L193.9 362.9L195.1 363L196.3 363.1L197.6 363.3L198.8 363.4L200 363.5L201.3 363.6L202.5 363.8L203.8 363.9L205 364L206.2 364.1L207.5 364.2L208.7 364.3L210 364.4L211.2 364.5L212.4 364.6L213.7 364.7L214.9 364.8L216.2 364.8L217.4 364.9L218.6 365L219.9 365L221.1 365.1L222.4 365.1L223.6 365.1L224.8 365.1L226.1 365.2L227.3 365.2L228.6 365.2L229.8 365.2L229.8 398.4L228.6 398L227.3 397.5L226.1 397.1L224.8 396.7L223.6 396.3L222.4 395.9L221.1 395.4L219.9 395L218.6 394.6L217.4 394.2L216.2 393.8L214.9 393.4L213.7 393L212.4 392.6L211.2 392.2L210 391.8L208.7 391.4L207.5 391L206.2 390.6L205 390.2L203.8 389.8L202.5 389.3L201.3 388.9L200 388.5L198.8 388L197.6 387.5L196.3 387.1L195.1 386.6L193.9 386.1L192.6 385.6L191.4 385.1L190.1 384.6L188.9 384.1L187.7 383.6L186.4 383L185.2 382.5L183.9 382L182.7 381.4L181.5 380.9L180.2 380.4L179 379.8L177.7 379.3L176.5 378.7L175.3 378.2L174 377.7L172.8 377.1L171.5 376.5L170.3 376L169.1 375.4L167.8 374.8L166.6 374.2L165.3 373.7L164.1 373.1L162.9 372.5L161.6 371.9L160.4 371.3L159.1 370.7L157.9 370.2L156.7 369.6L155.4 369.1L154.2 368.5L152.9 368L151.7 367.5L150.5 367L149.2 366.5L148 366L146.7 365.5L145.5 365.1L144.3 364.6L143 364.2L141.8 363.7L140.5 363.3L139.3 362.9L138.1 362.4L136.8 362L135.6 361.6L134.3 361.1L133.1 360.7L131.9 360.2L130.6 359.8L129.4 359.3L128.2 358.8L126.9 358.4L125.7 357.9L124.4 357.4L123.2 356.9L122 356.4L120.7 355.9L119.5 355.3L118.2 354.8L117 354.3L115.8 353.8L114.5 353.2L113.3 352.7L112 352.2L110.8 351.6L109.6 351.1L108.3 350.6L107.1 350.1L105.8 349.5L104.6 349L103.4 348.5L102.1 348L100.9 347.5L99.6 346.9L98.4 346.4L97.2 345.9L95.9 345.3L94.7 344.8L93.4 344.2L92.2 343.7L91 343.2L89.7 342.7L88.5 342.1L87.2 341.6L86 341.1L84.8 340.6L83.5 340.1L82.3 339.7L81 339.2L79.8 338.7L78.6 338.3L77.3 337.9L76.1 337.4L74.8 337L73.6 336.6L72.4 336.2L71.1 335.9L69.9 335.5L68.6 335.2L67.4 335L66.2 334.7L64.9 334.5L63.7 334.3L62.5 334L61.2 333.8L60 333.5L58.7 333.2L57.5 332.8L56.3 332.4L55 331.8L53.8 331.2L52.5 330.5L51.3 329.7L50.1 328.7L48.8 327.7L47.6 326.6L46.3 325.1L45.1 323.5L43.9 322L42.6 321L41.4 320.7L40.1 320.7L38.9 320.7L37.7 320.7L36.4 320.7L35.2 320.7L33.9 322.8L32.7 326.5Z" fill="rgb(0,0,139)" fill-opacity="0.3" clip-path="url(#c10)"/>
<path d="M23.4 330.8H240" stroke="#7c7c7c" stroke-width="1.7" stroke-dasharray="3.6 2.7" fill="none"/>
<path d="M32.7 316.1L33.9 315.5L35.2 315.3L36.4 315.4L37.7 315.9L38.9 316.5L40.1 317.3L41.4 318.1L42.6 319L43.9 320.1L45.1 321.5L46.3 322.9L47.6 324.3L48.8 325.5L50.1 326.8L51.3 328L52.5 329.1L53.8 329.8L55 330.4L56.3 331L57.5 331.4L58.7 331.8L60 332.1L61.2 332.4L62.5 332.6L63.7 332.8L64.9 333L66.2 333.3L67.4 333.5L68.6 333.7L69.9 334L71.1 334.3L72.4 334.7L73.6 335L74.8 335.4L76.1 335.8L77.3 336.1L78.6 336.5L79.8 336.9L81 337.3L82.3 337.8L83.5 338.2L84.8 338.6L86 339.1L87.2 339.5L88.5 340L89.7 340.4L91 340.9L92.2 341.4L93.4 341.9L94.7 342.3L95.9 342.8L97.2 343.3L98.4 343.7L99.6 344.2L100.9 344.7L102.1 345.1L103.4 345.6L104.6 346L105.8 346.5L107.1 346.9L108.3 347.3L109.6 347.8L110.8 348.2L112 348.7L113.3 349.1L114.5 349.6L115.8 350L117 350.5L118.2 350.9L119.5 351.3L120.7 351.7L122 352.2L123.2 352.6L124.4 353L125.7 353.4L126.9 353.8L128.2 354.2L129.4 354.5L130.6 354.9L131.9 355.3L133.1 355.6L134.3 356L135.6 356.3L136.8 356.7L138.1 357L139.3 357.4L140.5 357.7L141.8 358.1L143 358.4L144.3 358.7L145.5 359.1L146.7 359.4L148 359.8L149.2 360.1L150.5 360.5L151.7 360.9L152.9 361.2L154.2 361.6L155.4 362L156.7 362.4L157.9 362.7L159.1 363.1L160.4 363.5L161.6 363.9L162.9 364.3L164.1 364.7L165.3 365.1L166.6 365.4L167.8 365.8L169.1 366.2L170.3 366.6L171.5 367L172.8 367.3L174 367.7L175.3 368L176.5 368.4L177.7 368.7L179 369.1L180.2 369.4L181.5 369.8L182.7 370.1L183.9 370.4L185.2 370.8L186.4 371.1L187.7 371.4L188.9 371.8L190.1 372.1L191.4 372.4L192.6 372.7L193.9 373L195.1 373.4L196.3 373.7L197.6 374L198.8 374.3L200 374.6L201.3 374.9L202.5 375.2L203.8 375.5L205 375.8L206.2 376.1L207.5 376.4L208.7 376.7L210 377L211.2 377.3L212.4 377.6L213.7 377.9L214.9 378.1L216.2 378.4L217.4 378.7L218.6 379L219.9 379.3L221.1 379.6L222.4 379.9L223.6 380.2L224.8 380.5L226.1 380.8L227.3 381.1L228.6 381.4L229.8 381.7" stroke="#0a0a14" stroke-width="1.08" fill="none" stroke-linejoin="round" clip-path="url(#c10)"/>
<path d="M128.6 466.8V474.1" stroke="#000" stroke-width="1.5" stroke-opacity="0.5" fill="none"/>
<path d="M136.1 466.8V474.1" stroke="#000" stroke-width="1.5" fill="none"/>
<path d="M140.8 466.8V474.1" stroke="#000" stroke-width="0.9" stroke-opacity="0.5" fill="none"/>
<path d="M145 466.8V474.1" stroke="#000" stroke-width="1.4" fill="none"/>
<path d="M147.7 466.8V474.1M157.3 466.8V474.1M187.5 466.8V474.1" stroke="#000" stroke-width="0.9" fill="none"/>
<path d="M172.8 466.8V474.1M177.2 466.8V474.1" stroke="#000" stroke-width="1.2" fill="none"/>
<path d="M198 466.8V474.1M201.8 466.8V474.1" stroke="#000" stroke-width="0.9" stroke-opacity="0.55" fill="none"/>
<path d="M229.8 466.8V474.1" stroke="#000" stroke-width="0.9" stroke-opacity="0.7" fill="none"/>
<rect x="32.1" y="466.8" width="93.2" height="7.3" fill="#000"/>
<rect x="130.6" y="466.8" width="2.2" height="7.3" fill="#000"/>
<path d="M99.9 466.6V474.3" stroke="#fff" stroke-opacity="0.7" stroke-width="0.6" fill="none"/>
<path d="M103.2 466.6V474.3M106.6 466.6V474.3M110.7 466.6V474.3M113.2 466.6V474.3M115.7 466.6V474.3M118.2 466.6V474.3M120.7 466.6V474.3" stroke="#fff" stroke-opacity="0.75" stroke-width="0.6" fill="none"/>
<path d="M101.6 466.6V474.3M108.6 466.6V474.3" stroke="#fff" stroke-opacity="0.3" stroke-width="0.3" fill="none"/>
<path d="M123 466.6V474.3" stroke="#fff" stroke-opacity="0.35" stroke-width="0.3" fill="none"/>
<text x="26.3" y="490.2" transform="rotate(0.03 26.3 490.2)" font-size="7.8" fill="#000" stroke="#000" stroke-width="0.36" textLength="216.3" lengthAdjust="spacingAndGlyphs">Percentage with an 'other non-Western' migration background</text>
<text transform="translate(7.3 358.8) rotate(-90)" font-size="7.8" fill="#000" stroke="#000" stroke-width="0.36" text-anchor="middle" textLength="35.5" lengthAdjust="spacingAndGlyphs">Odds ratio</text>
</g>
<g id="p11">
<clipPath id="c11"><rect x="263.3" y="252.4" width="217.2" height="221.8"/></clipPath>
<path d="M263.3 262.1H480.5M263.3 267.6H480.5M263.3 273.5H480.5M263.3 280.1H480.5M263.3 287.5H480.5M263.3 295.8H480.5M263.3 305.5H480.5M263.3 316.9H480.5M263.3 330.8H480.5M263.3 348.8H480.5M263.3 374.1H480.5M263.3 417.4H480.5M281 251.6V474.2M307.9 251.6V474.2M334.9 251.6V474.2M361.8 251.6V474.2M388.8 251.6V474.2M415.7 251.6V474.2M442.7 251.6V474.2M469.6 251.6V474.2" stroke="#ededed" stroke-width="0.72" fill="none"/>
<g font-size="4.3" fill="#333" stroke="#333" stroke-width="0.13" text-anchor="end">
<text x="261.30" y="263.79" transform="rotate(0.04 261.30 263.79)">3.00</text>
<text x="261.30" y="269.22" transform="rotate(0.04 261.30 269.22)">2.75</text>
<text x="261.30" y="275.18" transform="rotate(0.04 261.30 275.18)">2.50</text>
<text x="261.30" y="281.77" transform="rotate(0.04 261.30 281.77)">2.25</text>
<text x="261.30" y="289.13" transform="rotate(0.04 261.30 289.13)">2.00</text>
<text x="261.30" y="297.47" transform="rotate(0.04 261.30 297.47)">1.75</text>
<text x="261.30" y="307.11" transform="rotate(0.04 261.30 307.11)">1.50</text>
<text x="261.30" y="318.50" transform="rotate(0.04 261.30 318.50)">1.25</text>
<text x="261.30" y="332.45" transform="rotate(0.04 261.30 332.45)">1.00</text>
<text x="261.30" y="350.43" transform="rotate(0.04 261.30 350.43)">0.75</text>
<text x="261.30" y="375.77" transform="rotate(0.04 261.30 375.77)">0.50</text>
<text x="261.30" y="419.09" transform="rotate(0.04 261.30 419.09)">0.25</text>
</g>
<g font-size="4.1" fill="#333" stroke="#333" stroke-width="0.13" text-anchor="middle">
<text x="281.00" y="479.70" transform="rotate(0.04 281.00 479.70)">-1.0</text>
<text x="334.90" y="479.70" transform="rotate(0.04 334.90 479.70)">-0.5</text>
<text x="388.80" y="479.70" transform="rotate(0.04 388.80 479.70)">0.0</text>
<text x="442.70" y="479.70" transform="rotate(0.04 442.70 479.70)">0.5</text>
</g>
<path d="M273.4 334.5L274.7 334.7L275.9 335L277.2 335.3L278.4 335.5L279.6 335.8L280.9 336L282.1 336.3L283.4 336.5L284.6 336.7L285.8 336.9L287.1 337.2L288.3 337.4L289.6 337.6L290.8 337.8L292.1 338L293.3 338.1L294.5 338.3L295.8 338.5L297 338.6L298.3 338.8L299.5 339L300.7 339.1L302 339.2L303.2 339.4L304.5 339.5L305.7 339.6L306.9 339.7L308.2 339.8L309.4 339.9L310.7 340L311.9 340.1L313.2 340.2L314.4 340.3L315.6 340.3L316.9 340.4L318.1 340.4L319.4 340.5L320.6 340.5L321.8 340.6L323.1 340.6L324.3 340.6L325.6 340.6L326.8 340.6L328 340.6L329.3 340.6L330.5 340.6L331.8 340.6L333 340.6L334.2 340.5L335.5 340.5L336.7 340.5L338 340.4L339.2 340.3L340.5 340.3L341.7 340.2L342.9 340.1L344.2 340L345.4 339.9L346.7 339.8L347.9 339.7L349.1 339.6L350.4 339.5L351.6 339.3L352.9 339.2L354.1 339.1L355.3 338.9L356.6 338.8L357.8 338.6L359.1 338.4L360.3 338.2L361.6 338L362.8 337.8L364 337.6L365.3 337.4L366.5 337.2L367.8 337L369 336.8L370.2 336.5L371.5 336.3L372.7 336L374 335.7L375.2 335.5L376.4 335.2L377.7 334.9L378.9 334.6L380.2 334.3L381.4 334L382.7 333.6L383.9 333.3L385.1 332.9L386.4 332.6L387.6 332.2L388.9 331.9L390.1 331.5L391.3 331.1L392.6 330.7L393.8 330.3L395.1 329.8L396.3 329.4L397.5 329L398.8 328.5L400 328L401.3 327.6L402.5 327.1L403.7 326.6L405 326.1L406.2 325.6L407.5 325.1L408.7 324.5L410 324L411.2 323.4L412.4 322.9L413.7 322.3L414.9 321.7L416.2 321.2L417.4 320.6L418.6 320L419.9 319.3L421.1 318.7L422.4 318.1L423.6 317.4L424.8 316.8L426.1 316.1L427.3 315.5L428.6 314.8L429.8 314.1L431.1 313.5L432.3 312.8L433.5 312.1L434.8 311.4L436 310.6L437.3 309.9L438.5 309.2L439.7 308.5L441 307.7L442.2 307L443.5 306.3L444.7 305.5L445.9 304.8L447.2 304L448.4 303.3L449.7 302.5L450.9 301.7L452.2 301L453.4 300.2L454.6 299.4L455.9 298.6L457.1 297.8L458.4 297.1L459.6 296.3L460.8 295.5L462.1 294.7L463.3 293.9L464.6 293.1L465.8 292.3L467 291.5L468.3 290.7L469.5 290L470.8 289.2L470.8 311.2L469.5 311.4L468.3 311.7L467 311.9L465.8 312.2L464.6 312.5L463.3 312.8L462.1 313L460.8 313.3L459.6 313.6L458.4 313.9L457.1 314.2L455.9 314.6L454.6 314.9L453.4 315.2L452.2 315.5L450.9 315.9L449.7 316.2L448.4 316.5L447.2 316.9L445.9 317.2L444.7 317.6L443.5 317.9L442.2 318.3L441 318.6L439.7 319L438.5 319.4L437.3 319.7L436 320.1L434.8 320.5L433.5 320.8L432.3 321.2L431.1 321.6L429.8 322L428.6 322.3L427.3 322.7L426.1 323.1L424.8 323.5L423.6 323.9L422.4 324.2L421.1 324.6L419.9 325L418.6 325.4L417.4 325.7L416.2 326.1L414.9 326.5L413.7 326.9L412.4 327.2L411.2 327.6L410 328L408.7 328.3L407.5 328.7L406.2 329.1L405 329.4L403.7 329.8L402.5 330.1L401.3 330.5L400 330.9L398.8 331.2L397.5 331.6L396.3 331.9L395.1 332.3L393.8 332.6L392.6 333L391.3 333.3L390.1 333.7L388.9 334L387.6 334.4L386.4 334.7L385.1 335.1L383.9 335.4L382.7 335.7L381.4 336.1L380.2 336.4L378.9 336.8L377.7 337.1L376.4 337.4L375.2 337.8L374 338.1L372.7 338.4L371.5 338.8L370.2 339.1L369 339.4L367.8 339.7L366.5 340.1L365.3 340.4L364 340.7L362.8 341.1L361.6 341.4L360.3 341.7L359.1 342L357.8 342.3L356.6 342.7L355.3 343L354.1 343.3L352.9 343.6L351.6 343.9L350.4 344.2L349.1 344.6L347.9 344.9L346.7 345.2L345.4 345.5L344.2 345.8L342.9 346.2L341.7 346.5L340.5 346.8L339.2 347.1L338 347.4L336.7 347.8L335.5 348.1L334.2 348.4L333 348.7L331.8 349.1L330.5 349.4L329.3 349.7L328 350L326.8 350.4L325.6 350.7L324.3 351.1L323.1 351.4L321.8 351.7L320.6 352.1L319.4 352.4L318.1 352.8L316.9 353.1L315.6 353.5L314.4 353.8L313.2 354.2L311.9 354.6L310.7 354.9L309.4 355.3L308.2 355.7L306.9 356.1L305.7 356.4L304.5 356.8L303.2 357.2L302 357.6L300.7 358L299.5 358.4L298.3 358.8L297 359.2L295.8 359.6L294.5 360L293.3 360.5L292.1 360.9L290.8 361.3L289.6 361.8L288.3 362.2L287.1 362.7L285.8 363.1L284.6 363.6L283.4 364L282.1 364.5L280.9 365L279.6 365.5L278.4 366L277.2 366.4L275.9 366.9L274.7 367.5L273.4 368Z" fill="rgb(0,0,139)" fill-opacity="0.3" clip-path="url(#c11)"/>
<path d="M263.9 330.8H480.5" stroke="#7c7c7c" stroke-width="1.7" stroke-dasharray="3.6 2.7" fill="none"/>
<path d="M273.4 351.3L274.7 351.1L275.9 351L277.2 350.8L278.4 350.7L279.6 350.6L280.9 350.4L282.1 350.3L283.4 350.1L284.6 350L285.8 349.8L287.1 349.7L288.3 349.6L289.6 349.4L290.8 349.3L292.1 349.1L293.3 349L294.5 348.9L295.8 348.7L297 348.6L298.3 348.5L299.5 348.3L300.7 348.2L302 348.1L303.2 347.9L304.5 347.8L305.7 347.7L306.9 347.5L308.2 347.4L309.4 347.2L310.7 347.1L311.9 347L313.2 346.8L314.4 346.7L315.6 346.5L316.9 346.4L318.1 346.3L319.4 346.1L320.6 346L321.8 345.8L323.1 345.7L324.3 345.5L325.6 345.4L326.8 345.2L328 345L329.3 344.9L330.5 344.7L331.8 344.6L333 344.4L334.2 344.2L335.5 344L336.7 343.9L338 343.7L339.2 343.5L340.5 343.3L341.7 343.1L342.9 343L344.2 342.8L345.4 342.6L346.7 342.4L347.9 342.2L349.1 342L350.4 341.7L351.6 341.5L352.9 341.3L354.1 341.1L355.3 340.9L356.6 340.6L357.8 340.4L359.1 340.2L360.3 339.9L361.6 339.7L362.8 339.4L364 339.1L365.3 338.9L366.5 338.6L367.8 338.3L369 338.1L370.2 337.8L371.5 337.5L372.7 337.2L374 336.9L375.2 336.6L376.4 336.3L377.7 336L378.9 335.7L380.2 335.3L381.4 335L382.7 334.7L383.9 334.3L385.1 334L386.4 333.6L387.6 333.3L388.9 332.9L390.1 332.5L391.3 332.2L392.6 331.8L393.8 331.4L395.1 331L396.3 330.6L397.5 330.2L398.8 329.8L400 329.4L401.3 329L402.5 328.5L403.7 328.1L405 327.7L406.2 327.2L407.5 326.8L408.7 326.3L410 325.9L411.2 325.4L412.4 324.9L413.7 324.5L414.9 324L416.2 323.5L417.4 323L418.6 322.5L419.9 322L421.1 321.5L422.4 321L423.6 320.5L424.8 320L426.1 319.5L427.3 319L428.6 318.4L429.8 317.9L431.1 317.4L432.3 316.8L433.5 316.3L434.8 315.8L436 315.2L437.3 314.7L438.5 314.1L439.7 313.6L441 313L442.2 312.5L443.5 311.9L444.7 311.4L445.9 310.8L447.2 310.3L448.4 309.7L449.7 309.2L450.9 308.6L452.2 308.1L453.4 307.5L454.6 307L455.9 306.4L457.1 305.8L458.4 305.3L459.6 304.7L460.8 304.2L462.1 303.7L463.3 303.1L464.6 302.6L465.8 302L467 301.5L468.3 301L469.5 300.4L470.8 299.9" stroke="#0a0a14" stroke-width="1.08" fill="none" stroke-linejoin="round" clip-path="url(#c11)"/>
<path d="M450.8 466.8V474.1M452.1 466.8V474.1M453.6 466.8V474.1M454.6 466.8V474.1M456.1 466.8V474.1M300.3 466.8V474.1M303.6 466.8V474.1M309.9 466.8V474.1M314.4 466.8V474.1M320.2 466.8V474.1M325.7 466.8V474.1" stroke="#000" stroke-width="0.9" fill="none"/>
<path d="M273.4 466.8V474.1M460.5 466.8V474.1" stroke="#000" stroke-width="0.5" fill="none"/>
<path d="M317.3 466.8V474.1" stroke="#000" stroke-width="1.7" fill="none"/>
<path d="M329 466.8V474.1" stroke="#000" stroke-width="1.6" fill="none"/>
<path d="M470.1 466.8V474.1" stroke="#000" stroke-width="1.2" fill="none"/>
<rect x="332.3" y="466.8" width="115.8" height="7.3" fill="#000"/>
<text x="323.7" y="490.2" transform="rotate(0.03 323.7 490.2)" font-size="7.8" fill="#000" stroke="#000" stroke-width="0.36" textLength="94.5" lengthAdjust="spacingAndGlyphs">Socioeconomic status score</text>
<text transform="translate(247.8 358.8) rotate(-90)" font-size="7.8" fill="#000" stroke="#000" stroke-width="0.36" text-anchor="middle" textLength="35.5" lengthAdjust="spacingAndGlyphs">Odds ratio</text>
</g>
<g id="p12">
<clipPath id="c12"><rect x="504.2" y="252.4" width="217.2" height="221.8"/></clipPath>
<path d="M504.2 262.1H721.4M504.2 267.6H721.4M504.2 273.5H721.4M504.2 280.1H721.4M504.2 287.5H721.4M504.2 295.8H721.4M504.2 305.5H721.4M504.2 316.9H721.4M504.2 330.8H721.4M504.2 348.8H721.4M504.2 374.1H721.4M504.2 417.4H721.4M514.4 251.6V474.2M534.7 251.6V474.2M554.9 251.6V474.2M575.2 251.6V474.2M595.5 251.6V474.2M615.7 251.6V474.2M636 251.6V474.2M656.3 251.6V474.2M676.5 251.6V474.2M696.8 251.6V474.2M717.1 251.6V474.2" stroke="#ededed" stroke-width="0.72" fill="none"/>
<g font-size="4.3" fill="#333" stroke="#333" stroke-width="0.13" text-anchor="end">
<text x="502.20" y="263.79" transform="rotate(0.04 502.20 263.79)">3.00</text>
<text x="502.20" y="269.22" transform="rotate(0.04 502.20 269.22)">2.75</text>
<text x="502.20" y="275.18" transform="rotate(0.04 502.20 275.18)">2.50</text>
<text x="502.20" y="281.77" transform="rotate(0.04 502.20 281.77)">2.25</text>
<text x="502.20" y="289.13" transform="rotate(0.04 502.20 289.13)">2.00</text>
<text x="502.20" y="297.47" transform="rotate(0.04 502.20 297.47)">1.75</text>
<text x="502.20" y="307.11" transform="rotate(0.04 502.20 307.11)">1.50</text>
<text x="502.20" y="318.50" transform="rotate(0.04 502.20 318.50)">1.25</text>
<text x="502.20" y="332.45" transform="rotate(0.04 502.20 332.45)">1.00</text>
<text x="502.20" y="350.43" transform="rotate(0.04 502.20 350.43)">0.75</text>
<text x="502.20" y="375.77" transform="rotate(0.04 502.20 375.77)">0.50</text>
<text x="502.20" y="419.09" transform="rotate(0.04 502.20 419.09)">0.25</text>
</g>
<g font-size="4.1" fill="#333" stroke="#333" stroke-width="0.13" text-anchor="middle">
<text x="514.40" y="479.70" transform="rotate(0.04 514.40 479.70)">0</text>
<text x="554.90" y="479.70" transform="rotate(0.04 554.90 479.70)">2500</text>
<text x="595.50" y="479.70" transform="rotate(0.04 595.50 479.70)">5000</text>
<text x="636.00" y="479.70" transform="rotate(0.04 636.00 479.70)">7500</text>
<text x="676.50" y="479.70" transform="rotate(0.04 676.50 479.70)">10000</text>
<text x="717.10" y="479.70" transform="rotate(0.04 717.10 479.70)">12500</text>
</g>
<path d="M514.3 371.4L514.8 354.2L515.3 346.9L515.8 342.7L516.3 339.6L516.8 336.7L517.3 334.3L517.7 332.4L518.2 330.8L518.7 329.5L519.2 328.4L519.7 327.5L520.2 326.8L520.7 326.1L521.2 325.4L521.7 324.9L522.2 324.4L522.7 324L523.2 323.6L523.7 323.2L524.2 322.9L524.7 322.6L525.2 322.3L525.7 322L526.1 321.8L526.6 321.6L527.1 321.4L527.6 321.2L528.1 321L528.6 320.9L529.1 320.7L529.6 320.6L530.1 320.5L530.6 320.4L531.1 320.3L531.6 320.2L532.1 320.2L532.6 320.1L533.1 320L533.6 320L534 319.9L534.5 319.9L535 319.8L535.5 319.8L536 319.8L536.5 319.7L537 319.7L537.5 319.7L538 319.6L538.5 319.6L539 319.6L539.5 319.5L540 319.5L540.5 319.5L541 319.5L541.5 319.4L542 319.4L542.4 319.4L542.9 319.4L543.4 319.3L543.9 319.3L544.4 319.3L544.9 319.3L545.4 319.3L545.9 319.2L546.4 319.2L546.9 319.2L547.4 319.2L547.9 319.2L548.4 319.1L548.9 319.1L549.4 319.1L549.9 319.1L550.4 319L550.8 319L551.3 319L551.8 319L552.3 318.9L552.8 318.9L553.3 318.9L553.8 318.9L554.3 318.8L554.8 318.8L555.3 318.8L555.8 318.8L556.3 318.7L556.8 318.7L557.3 318.7L557.8 318.7L558.3 318.6L558.8 318.6L559.2 318.6L559.7 318.6L560.2 318.5L560.7 318.5L561.2 318.5L561.7 318.5L562.2 318.5L562.7 318.4L563.2 318.4L563.7 318.4L564.2 318.4L564.7 318.3L565.2 318.3L565.7 318.3L566.2 318.3L566.7 318.2L567.2 318.2L567.6 318.2L568.1 318.2L568.6 318.2L569.1 318.2L569.6 318.1L570.1 318.1L570.6 318.1L571.1 318.1L571.6 318.1L572.1 318.1L572.6 318L573.1 318L573.6 318L574.1 318L574.6 318L575.1 318L575.6 318L576 318L576.5 317.9L577 317.9L577.5 317.9L578 317.9L578.5 317.9L579 317.9L579.5 317.9L580 317.9L580.5 317.9L581 317.9L581.5 317.9L582 317.9L582.5 317.9L583 317.9L583.5 317.9L584 317.9L584.4 317.9L584.9 317.9L585.4 317.9L585.9 317.9L586.4 317.9L586.9 317.9L587.4 317.9L587.9 317.9L588.4 317.9L588.9 317.9L589.4 317.9L589.9 317.9L590.4 317.9L590.9 317.9L591.4 317.9L591.9 317.9L592.4 317.9L592.8 317.9L593.3 317.9L593.8 317.9L594.3 317.9L594.8 317.9L595.3 317.9L595.8 317.9L596.3 317.9L596.8 317.9L597.3 317.9L597.8 317.9L598.3 317.9L598.8 317.9L599.3 317.9L599.8 317.8L600.3 317.8L600.8 317.8L601.2 317.8L601.7 317.8L602.2 317.8L602.7 317.8L603.2 317.8L603.7 317.8L604.2 317.7L604.7 317.7L605.2 317.7L605.7 317.7L606.2 317.7L606.7 317.7L607.2 317.7L607.7 317.6L608.2 317.6L608.7 317.6L609.2 317.6L609.6 317.6L610.1 317.5L610.6 317.5L611.1 317.5L611.6 317.5L612.1 317.5L612.6 317.4L613.1 317.4L613.6 317.4L614.1 317.4L614.6 317.3L615.1 317.3L615.6 317.3L616.1 317.3L616.6 317.2L617.1 317.2L617.6 317.2L618 317.2L618.5 317.1L619 317.1L619.5 317.1L620 317.1L620.5 317L621 317L621.5 317L622 317L622.5 316.9L623 316.9L623.5 316.9L624 316.8L624.5 316.8L625 316.8L625.5 316.8L626 316.7L626.4 316.7L626.9 316.7L627.4 316.7L627.9 316.6L628.4 316.6L628.9 316.6L629.4 316.6L629.9 316.5L630.4 316.5L630.9 316.5L631.4 316.4L631.9 316.4L632.4 316.4L632.9 316.4L633.4 316.3L633.9 316.3L634.4 316.3L634.8 316.3L635.3 316.2L635.8 316.2L636.3 316.2L636.8 316.2L637.3 316.1L637.8 316.1L638.3 316.1L638.8 316.1L639.3 316.1L639.8 316L640.3 316L640.8 316L641.3 315.9L641.8 315.9L642.3 315.9L642.8 315.9L643.2 315.8L643.7 315.8L644.2 315.8L644.7 315.8L645.2 315.7L645.7 315.7L646.2 315.7L646.7 315.7L647.2 315.6L647.7 315.6L648.2 315.6L648.7 315.5L649.2 315.5L649.7 315.5L650.2 315.5L650.7 315.4L651.2 315.4L651.6 315.4L652.1 315.3L652.6 315.3L653.1 315.3L653.6 315.3L654.1 315.2L654.6 315.2L655.1 315.2L655.6 315.1L656.1 315.1L656.6 315.1L657.1 315L657.6 315L658.1 315L658.6 315L659.1 314.9L659.6 314.9L660 314.9L660.5 314.8L661 314.8L661.5 314.8L662 314.8L662.5 314.7L663 314.7L663.5 314.7L664 314.6L664.5 314.6L665 314.6L665.5 314.5L666 314.5L666.5 314.5L667 314.5L667.5 314.4L668 314.4L668.4 314.4L668.9 314.3L669.4 314.3L669.9 314.3L670.4 314.2L670.9 314.2L671.4 314.2L671.9 314.2L672.4 314.1L672.9 314.1L673.4 314.1L673.9 314L674.4 314L674.9 314L675.4 314L675.9 313.9L676.4 313.9L676.8 313.9L677.3 313.8L677.8 313.8L678.3 313.8L678.8 313.8L679.3 313.7L679.8 313.7L680.3 313.7L680.8 313.6L681.3 313.6L681.8 313.6L682.3 313.6L682.8 313.5L683.3 313.5L683.8 313.5L684.3 313.4L684.8 313.4L685.2 313.4L685.7 313.4L686.2 313.3L686.7 313.3L687.2 313.3L687.7 313.2L688.2 313.2L688.7 313.2L689.2 313.2L689.7 313.1L690.2 313.1L690.7 313.1L691.2 313L691.7 313L692.2 313L692.7 313L693.1 312.9L693.6 312.9L694.1 312.9L694.6 312.8L695.1 312.8L695.6 312.8L696.1 312.8L696.6 312.7L697.1 312.7L697.6 312.7L698.1 312.6L698.6 312.6L699.1 312.6L699.6 312.6L700.1 312.5L700.6 312.5L701.1 312.5L701.5 312.4L702 312.4L702.5 312.4L703 312.4L703.5 312.3L704 312.3L704.5 312.3L705 312.2L705.5 312.2L706 312.2L706.5 312.2L707 312.1L707.5 312.1L708 312.1L708.5 312L709 312L709.5 312L709.9 312L710.4 311.9L710.9 311.9L711.4 311.9L711.4 329.4L710.9 329.4L710.4 329.4L710 329.4L709.5 329.4L709 329.3L708.5 329.3L708 329.3L707.5 329.3L707 329.3L706.5 329.2L706 329.2L705.5 329.2L705 329.2L704.5 329.2L704 329.1L703.5 329.1L703 329.1L702.6 329.1L702.1 329.1L701.6 329L701.1 329L700.6 329L700.1 329L699.6 329L699.1 328.9L698.6 328.9L698.1 328.9L697.6 328.9L697.1 328.9L696.6 328.8L696.1 328.8L695.6 328.8L695.2 328.8L694.7 328.8L694.2 328.7L693.7 328.7L693.2 328.7L692.7 328.7L692.2 328.7L691.7 328.6L691.2 328.6L690.7 328.6L690.2 328.6L689.7 328.6L689.2 328.6L688.7 328.5L688.2 328.5L687.8 328.5L687.3 328.5L686.8 328.5L686.3 328.4L685.8 328.4L685.3 328.4L684.8 328.4L684.3 328.4L683.8 328.4L683.3 328.3L682.8 328.3L682.3 328.3L681.8 328.3L681.3 328.3L680.8 328.2L680.4 328.2L679.9 328.2L679.4 328.2L678.9 328.2L678.4 328.2L677.9 328.1L677.4 328.1L676.9 328.1L676.4 328.1L675.9 328.1L675.4 328.1L674.9 328L674.4 328L673.9 328L673.4 328L673 328L672.5 327.9L672 327.9L671.5 327.9L671 327.9L670.5 327.9L670 327.9L669.5 327.8L669 327.8L668.5 327.8L668 327.8L667.5 327.8L667 327.8L666.5 327.7L666 327.7L665.6 327.7L665.1 327.7L664.6 327.7L664.1 327.7L663.6 327.6L663.1 327.6L662.6 327.6L662.1 327.6L661.6 327.6L661.1 327.6L660.6 327.5L660.1 327.5L659.6 327.5L659.1 327.5L658.6 327.5L658.2 327.5L657.7 327.4L657.2 327.4L656.7 327.4L656.2 327.4L655.7 327.4L655.2 327.4L654.7 327.4L654.2 327.3L653.7 327.3L653.2 327.3L652.7 327.3L652.2 327.3L651.7 327.3L651.2 327.2L650.8 327.2L650.3 327.2L649.8 327.2L649.3 327.2L648.8 327.2L648.3 327.1L647.8 327.1L647.3 327.1L646.8 327.1L646.3 327.1L645.8 327.1L645.3 327.1L644.8 327L644.3 327L643.8 327L643.4 327L642.9 327L642.4 327L641.9 326.9L641.4 326.9L640.9 326.9L640.4 326.9L639.9 326.9L639.4 326.9L638.9 326.9L638.4 326.8L637.9 326.8L637.4 326.8L636.9 326.8L636.4 326.8L636 326.8L635.5 326.7L635 326.7L634.5 326.7L634 326.7L633.5 326.7L633 326.7L632.5 326.6L632 326.6L631.5 326.6L631 326.6L630.5 326.6L630 326.6L629.5 326.5L629 326.5L628.6 326.5L628.1 326.5L627.6 326.5L627.1 326.4L626.6 326.4L626.1 326.4L625.6 326.4L625.1 326.4L624.6 326.4L624.1 326.3L623.6 326.3L623.1 326.3L622.6 326.3L622.1 326.3L621.6 326.2L621.2 326.2L620.7 326.2L620.2 326.2L619.7 326.2L619.2 326.1L618.7 326.1L618.2 326.1L617.7 326.1L617.2 326.1L616.7 326.1L616.2 326L615.7 326L615.2 326L614.7 326L614.2 326L613.7 326L613.3 325.9L612.8 325.9L612.3 325.9L611.8 325.9L611.3 325.9L610.8 325.9L610.3 325.8L609.8 325.8L609.3 325.8L608.8 325.8L608.3 325.8L607.8 325.8L607.3 325.8L606.8 325.7L606.3 325.7L605.9 325.7L605.4 325.7L604.9 325.7L604.4 325.7L603.9 325.7L603.4 325.7L602.9 325.7L602.4 325.6L601.9 325.6L601.4 325.6L600.9 325.6L600.4 325.6L599.9 325.6L599.4 325.6L598.9 325.6L598.5 325.6L598 325.6L597.5 325.6L597 325.6L596.5 325.6L596 325.6L595.5 325.6L595 325.6L594.5 325.6L594 325.6L593.5 325.6L593 325.6L592.5 325.6L592 325.6L591.5 325.6L591.1 325.6L590.6 325.7L590.1 325.7L589.6 325.7L589.1 325.7L588.6 325.7L588.1 325.7L587.6 325.7L587.1 325.8L586.6 325.8L586.1 325.8L585.6 325.8L585.1 325.8L584.6 325.8L584.1 325.8L583.7 325.9L583.2 325.9L582.7 325.9L582.2 325.9L581.7 325.9L581.2 325.9L580.7 325.9L580.2 325.9L579.7 325.9L579.2 325.9L578.7 325.9L578.2 325.9L577.7 325.9L577.2 325.9L576.7 325.9L576.3 325.9L575.8 325.9L575.3 325.9L574.8 325.9L574.3 325.9L573.8 325.9L573.3 325.8L572.8 325.8L572.3 325.8L571.8 325.8L571.3 325.8L570.8 325.8L570.3 325.8L569.8 325.8L569.3 325.7L568.9 325.7L568.4 325.7L567.9 325.7L567.4 325.7L566.9 325.7L566.4 325.7L565.9 325.6L565.4 325.6L564.9 325.6L564.4 325.6L563.9 325.6L563.4 325.6L562.9 325.5L562.4 325.5L561.9 325.5L561.5 325.5L561 325.5L560.5 325.4L560 325.4L559.5 325.4L559 325.4L558.5 325.4L558 325.3L557.5 325.3L557 325.3L556.5 325.3L556 325.3L555.5 325.2L555 325.2L554.5 325.2L554.1 325.2L553.6 325.2L553.1 325.1L552.6 325.1L552.1 325.1L551.6 325.1L551.1 325L550.6 325L550.1 325L549.6 325L549.1 325L548.6 324.9L548.1 324.9L547.6 324.9L547.1 324.9L546.7 324.9L546.2 324.8L545.7 324.8L545.2 324.8L544.7 324.7L544.2 324.7L543.7 324.7L543.2 324.6L542.7 324.6L542.2 324.6L541.7 324.5L541.2 324.5L540.7 324.5L540.2 324.4L539.7 324.4L539.3 324.4L538.8 324.4L538.3 324.4L537.8 324.4L537.3 324.3L536.8 324.3L536.3 324.3L535.8 324.3L535.3 324.3L534.8 324.3L534.3 324.3L533.8 324.3L533.3 324.3L532.8 324.3L532.3 324.3L531.9 324.3L531.4 324.3L530.9 324.3L530.4 324.3L529.9 324.3L529.4 324.4L528.9 324.5L528.4 324.6L527.9 324.7L527.4 324.8L526.9 325L526.4 325.1L525.9 325.3L525.4 325.5L524.9 325.8L524.5 326.1L524 326.5L523.5 326.9L523 327.3L522.5 327.7L522 328.2L521.5 328.8L521 329.3L520.5 330L520 330.8L519.5 331.7L519 332.7L518.5 333.9L518 335.4L517.5 337.3L517.1 339.5L516.6 342.1L516.1 345.2L515.6 349.9L515.1 359.8L514.6 396.9Z" fill="rgb(0,0,139)" fill-opacity="0.3" clip-path="url(#c12)"/>
<path d="M504.8 330.8H721.4" stroke="#7c7c7c" stroke-width="1.7" stroke-dasharray="3.6 2.7" fill="none"/>
<path d="M514.5 371.4L515 354.2L515.5 347L516 343.1L516.5 340.3L517 337.8L517.5 335.6L518 333.9L518.5 332.4L519 331.1L519.5 330L520 329.1L520.4 328.3L520.9 327.6L521.4 327L521.9 326.5L522.4 326L522.9 325.6L523.4 325.2L523.9 324.8L524.4 324.5L524.9 324.2L525.4 324L525.9 323.8L526.4 323.6L526.9 323.4L527.4 323.3L527.9 323.1L528.3 323L528.8 322.9L529.3 322.8L529.8 322.7L530.3 322.6L530.8 322.6L531.3 322.5L531.8 322.5L532.3 322.4L532.8 322.3L533.3 322.3L533.8 322.3L534.3 322.2L534.8 322.2L535.3 322.2L535.7 322.2L536.2 322.2L536.7 322.2L537.2 322.2L537.7 322.2L538.2 322.2L538.7 322.2L539.2 322.2L539.7 322.2L540.2 322.2L540.7 322.2L541.2 322.2L541.7 322.2L542.2 322.2L542.7 322.2L543.2 322.2L543.6 322.2L544.1 322.2L544.6 322.2L545.1 322.2L545.6 322.2L546.1 322.2L546.6 322.2L547.1 322.2L547.6 322.2L548.1 322.2L548.6 322.2L549.1 322.2L549.6 322.2L550.1 322.2L550.6 322.2L551 322.2L551.5 322.2L552 322.2L552.5 322.2L553 322.2L553.5 322.2L554 322.2L554.5 322.2L555 322.2L555.5 322.2L556 322.2L556.5 322.2L557 322.2L557.5 322.2L558 322.2L558.4 322.2L558.9 322.2L559.4 322.2L559.9 322.2L560.4 322.2L560.9 322.2L561.4 322.2L561.9 322.2L562.4 322.2L562.9 322.2L563.4 322.2L563.9 322.2L564.4 322.2L564.9 322.2L565.4 322.2L565.9 322.2L566.3 322.2L566.8 322.2L567.3 322.2L567.8 322.2L568.3 322.2L568.8 322.2L569.3 322.2L569.8 322.2L570.3 322.2L570.8 322.2L571.3 322.2L571.8 322.2L572.3 322.2L572.8 322.2L573.3 322.2L573.7 322.2L574.2 322.2L574.7 322.2L575.2 322.2L575.7 322.2L576.2 322.2L576.7 322.2L577.2 322.2L577.7 322.2L578.2 322.2L578.7 322.2L579.2 322.2L579.7 322.2L580.2 322.2L580.7 322.2L581.1 322.2L581.6 322.2L582.1 322.1L582.6 322.1L583.1 322.1L583.6 322.1L584.1 322.1L584.6 322.1L585.1 322.1L585.6 322.1L586.1 322.1L586.6 322.1L587.1 322.1L587.6 322.1L588.1 322.1L588.6 322.1L589 322.1L589.5 322.1L590 322.1L590.5 322.1L591 322L591.5 322L592 322L592.5 322L593 322L593.5 322L594 322L594.5 322L595 322L595.5 322L596 322L596.4 321.9L596.9 321.9L597.4 321.9L597.9 321.9L598.4 321.9L598.9 321.9L599.4 321.9L599.9 321.9L600.4 321.9L600.9 321.8L601.4 321.8L601.9 321.8L602.4 321.8L602.9 321.8L603.4 321.8L603.9 321.8L604.3 321.8L604.8 321.8L605.3 321.8L605.8 321.7L606.3 321.7L606.8 321.7L607.3 321.7L607.8 321.7L608.3 321.7L608.8 321.7L609.3 321.7L609.8 321.7L610.3 321.7L610.8 321.6L611.3 321.6L611.7 321.6L612.2 321.6L612.7 321.6L613.2 321.6L613.7 321.6L614.2 321.6L614.7 321.6L615.2 321.6L615.7 321.6L616.2 321.6L616.7 321.6L617.2 321.6L617.7 321.6L618.2 321.5L618.7 321.5L619.1 321.5L619.6 321.5L620.1 321.5L620.6 321.5L621.1 321.5L621.6 321.5L622.1 321.5L622.6 321.5L623.1 321.5L623.6 321.5L624.1 321.5L624.6 321.5L625.1 321.5L625.6 321.5L626.1 321.5L626.6 321.5L627 321.5L627.5 321.5L628 321.5L628.5 321.4L629 321.4L629.5 321.4L630 321.4L630.5 321.4L631 321.4L631.5 321.4L632 321.4L632.5 321.4L633 321.4L633.5 321.4L634 321.4L634.4 321.4L634.9 321.4L635.4 321.4L635.9 321.4L636.4 321.4L636.9 321.4L637.4 321.4L637.9 321.4L638.4 321.4L638.9 321.4L639.4 321.4L639.9 321.4L640.4 321.4L640.9 321.4L641.4 321.4L641.8 321.3L642.3 321.3L642.8 321.3L643.3 321.3L643.8 321.3L644.3 321.3L644.8 321.3L645.3 321.3L645.8 321.3L646.3 321.3L646.8 321.3L647.3 321.3L647.8 321.3L648.3 321.3L648.8 321.3L649.3 321.3L649.7 321.3L650.2 321.3L650.7 321.3L651.2 321.3L651.7 321.3L652.2 321.3L652.7 321.3L653.2 321.3L653.7 321.3L654.2 321.3L654.7 321.3L655.2 321.3L655.7 321.3L656.2 321.2L656.7 321.2L657.1 321.2L657.6 321.2L658.1 321.2L658.6 321.2L659.1 321.2L659.6 321.2L660.1 321.2L660.6 321.2L661.1 321.2L661.6 321.2L662.1 321.2L662.6 321.2L663.1 321.2L663.6 321.2L664.1 321.2L664.5 321.2L665 321.2L665.5 321.2L666 321.2L666.5 321.2L667 321.2L667.5 321.2L668 321.2L668.5 321.1L669 321.1L669.5 321.1L670 321.1L670.5 321.1L671 321.1L671.5 321.1L672 321.1L672.4 321.1L672.9 321.1L673.4 321.1L673.9 321.1L674.4 321.1L674.9 321.1L675.4 321.1L675.9 321.1L676.4 321.1L676.9 321.1L677.4 321.1L677.9 321.1L678.4 321.1L678.9 321L679.4 321L679.8 321L680.3 321L680.8 321L681.3 321L681.8 321L682.3 321L682.8 321L683.3 321L683.8 321L684.3 321L684.8 321L685.3 321L685.8 321L686.3 321L686.8 320.9L687.3 320.9L687.7 320.9L688.2 320.9L688.7 320.9L689.2 320.9L689.7 320.9L690.2 320.9L690.7 320.9L691.2 320.9L691.7 320.9L692.2 320.9L692.7 320.9L693.2 320.9L693.7 320.9L694.2 320.8L694.7 320.8L695.1 320.8L695.6 320.8L696.1 320.8L696.6 320.8L697.1 320.8L697.6 320.8L698.1 320.8L698.6 320.8L699.1 320.8L699.6 320.8L700.1 320.8L700.6 320.7L701.1 320.7L701.6 320.7L702.1 320.7L702.5 320.7L703 320.7L703.5 320.7L704 320.7L704.5 320.7L705 320.7L705.5 320.7L706 320.7L706.5 320.7L707 320.6L707.5 320.6L708 320.6L708.5 320.6L709 320.6L709.5 320.6L710 320.6L710.4 320.6L710.9 320.6L711.4 320.6" stroke="#0a0a14" stroke-width="1.08" fill="none" stroke-linejoin="round" clip-path="url(#c12)"/>
<path d="M589.6 466.8V474.1M710.4 466.8V474.1M711.5 466.8V474.1" stroke="#000" stroke-width="0.6" fill="none"/>
<path d="M595.7 466.8V474.1M597.4 466.8V474.1M622.6 466.8V474.1M631.4 466.8V474.1M641.8 466.8V474.1M651.3 466.8V474.1M654.1 466.8V474.1M658.7 466.8V474.1M662 466.8V474.1M685.3 466.8V474.1M687.7 466.8V474.1M690.2 466.8V474.1M698.5 466.8V474.1M708 466.8V474.1" stroke="#000" stroke-width="0.9" fill="none"/>
<path d="M611.9 466.8V474.1" stroke="#000" stroke-width="0.45" fill="none"/>
<path d="M624.2 466.8V474.1M664.9 466.8V474.1M665.8 466.8V474.1M672.8 466.8V474.1M682.3 466.8V474.1M683.4 466.8V474.1M704.9 466.8V474.1M705.8 466.8V474.1" stroke="#000" stroke-width="0.5" fill="none"/>
<path d="M628.2 466.8V474.1" stroke="#000" stroke-width="0.8" fill="none"/>
<path d="M694.2 466.8V474.1" stroke="#000" stroke-width="1.1" fill="none"/>
<rect x="513.9" y="466.8" width="68.9" height="7.3" fill="#000"/>
<rect x="584" y="466.8" width="4.2" height="7.3" fill="#000"/>
<rect x="591" y="466.8" width="2.5" height="7.3" fill="#000"/>
<rect x="599.8" y="466.8" width="2" height="7.3" fill="#000"/>
<rect x="604.3" y="466.8" width="3.1" height="7.3" fill="#000"/>
<rect x="616.4" y="466.8" width="2.8" height="7.3" fill="#000"/>
<rect x="638.5" y="466.8" width="1.7" height="7.3" fill="#000"/>
<rect x="645.5" y="466.8" width="1.9" height="7.3" fill="#000"/>
<rect x="666.5" y="466.8" width="3.8" height="7.3" fill="#000"/>
<text x="593.4" y="490.2" transform="rotate(0.03 593.4 490.2)" font-size="7.8" fill="#000" stroke="#000" stroke-width="0.36" textLength="44.8" lengthAdjust="spacingAndGlyphs">Urbanisation</text>
<text transform="translate(488.7 358.8) rotate(-90)" font-size="7.8" fill="#000" stroke="#000" stroke-width="0.36" text-anchor="middle" textLength="35.5" lengthAdjust="spacingAndGlyphs">Odds ratio</text>
</g>
<g id="p20">
<clipPath id="c20"><rect x="22.8" y="501.8" width="217.2" height="221.8"/></clipPath>
<path d="M22.8 511.5H240M22.8 517H240M22.8 522.9H240M22.8 529.5H240M22.8 536.9H240M22.8 545.2H240M22.8 554.9H240M22.8 566.3H240M22.8 580.2H240M22.8 598.2H240M22.8 623.5H240M22.8 666.8H240M24.4 501V723.6M48.3 501V723.6M72.2 501V723.6M96.1 501V723.6M120 501V723.6M143.9 501V723.6M167.9 501V723.6M191.8 501V723.6M215.7 501V723.6M239.6 501V723.6" stroke="#ededed" stroke-width="0.72" fill="none"/>
<g font-size="4.3" fill="#333" stroke="#333" stroke-width="0.13" text-anchor="end">
<text x="20.80" y="513.19" transform="rotate(0.04 20.80 513.19)">3.00</text>
<text x="20.80" y="518.62" transform="rotate(0.04 20.80 518.62)">2.75</text>
<text x="20.80" y="524.58" transform="rotate(0.04 20.80 524.58)">2.50</text>
<text x="20.80" y="531.17" transform="rotate(0.04 20.80 531.17)">2.25</text>
<text x="20.80" y="538.53" transform="rotate(0.04 20.80 538.53)">2.00</text>
<text x="20.80" y="546.87" transform="rotate(0.04 20.80 546.87)">1.75</text>
<text x="20.80" y="556.51" transform="rotate(0.04 20.80 556.51)">1.50</text>
<text x="20.80" y="567.90" transform="rotate(0.04 20.80 567.90)">1.25</text>
<text x="20.80" y="581.85" transform="rotate(0.04 20.80 581.85)">1.00</text>
<text x="20.80" y="599.83" transform="rotate(0.04 20.80 599.83)">0.75</text>
<text x="20.80" y="625.17" transform="rotate(0.04 20.80 625.17)">0.50</text>
<text x="20.80" y="668.49" transform="rotate(0.04 20.80 668.49)">0.25</text>
</g>
<g font-size="4.1" fill="#333" stroke="#333" stroke-width="0.13" text-anchor="middle">
<text x="24.40" y="729.10" transform="rotate(0.04 24.40 729.10)">0</text>
<text x="72.20" y="729.10" transform="rotate(0.04 72.20 729.10)">10</text>
<text x="120.00" y="729.10" transform="rotate(0.04 120.00 729.10)">20</text>
<text x="167.90" y="729.10" transform="rotate(0.04 167.90 729.10)">30</text>
<text x="215.70" y="729.10" transform="rotate(0.04 215.70 729.10)">40</text>
</g>
<path d="M32.9 501.7L34.1 505.5L35.4 509.2L36.6 512.7L37.8 516L39.1 519.3L40.3 522.4L41.6 525.4L42.8 528.2L44 531L45.3 533.6L46.5 536.2L47.7 538.6L49 541L50.2 543.2L51.5 545.3L52.7 547.4L53.9 549.3L55.2 551.2L56.4 553L57.7 554.8L58.9 556.4L60.1 558L61.4 559.5L62.6 561L63.9 562.3L65.1 563.7L66.3 565L67.6 566.2L68.8 567.4L70.1 568.5L71.3 569.5L72.5 570.6L73.8 571.5L75 572.4L76.3 573.3L77.5 574.1L78.7 574.9L80 575.6L81.2 576.3L82.5 577L83.7 577.6L84.9 578.1L86.2 578.7L87.4 579.1L88.6 579.6L89.9 580L91.1 580.4L92.4 580.7L93.6 581L94.8 581.3L96.1 581.5L97.3 581.7L98.6 581.9L99.8 582.1L101 582.2L102.3 582.3L103.5 582.4L104.8 582.4L106 582.4L107.2 582.4L108.5 582.4L109.7 582.3L111 582.3L112.2 582.2L113.4 582.1L114.7 582L115.9 581.8L117.2 581.7L118.4 581.5L119.6 581.3L120.9 581.1L122.1 580.9L123.3 580.7L124.6 580.5L125.8 580.3L127.1 580L128.3 579.8L129.5 579.5L130.8 579.3L132 579L133.3 578.7L134.5 578.4L135.7 578.2L137 577.9L138.2 577.6L139.5 577.3L140.7 577L141.9 576.7L143.2 576.4L144.4 576.1L145.7 575.8L146.9 575.5L148.1 575.2L149.4 574.9L150.6 574.7L151.9 574.4L153.1 574.1L154.3 573.8L155.6 573.6L156.8 573.3L158.1 573.1L159.3 572.8L160.5 572.6L161.8 572.4L163 572.2L164.2 572L165.5 571.8L166.7 571.6L168 571.4L169.2 571.2L170.4 571L171.7 570.8L172.9 570.7L174.2 570.5L175.4 570.4L176.6 570.2L177.9 570.1L179.1 569.9L180.4 569.8L181.6 569.7L182.8 569.6L184.1 569.4L185.3 569.3L186.6 569.2L187.8 569.1L189 569L190.3 568.9L191.5 568.8L192.8 568.7L194 568.6L195.2 568.5L196.5 568.4L197.7 568.3L198.9 568.2L200.2 568.1L201.4 568L202.7 567.9L203.9 567.8L205.1 567.7L206.4 567.6L207.6 567.5L208.9 567.4L210.1 567.3L211.3 567.2L212.6 567.1L213.8 567L215.1 566.8L216.3 566.7L217.5 566.6L218.8 566.4L220 566.3L221.3 566.1L222.5 566L223.7 565.8L225 565.6L226.2 565.4L227.5 565.3L228.7 565.1L229.9 564.8L229.9 605.8L228.7 605L227.5 604.3L226.2 603.5L225 602.8L223.7 602.1L222.5 601.4L221.3 600.6L220 600L218.8 599.3L217.5 598.6L216.3 597.9L215.1 597.3L213.8 596.7L212.6 596.1L211.3 595.4L210.1 594.9L208.9 594.3L207.6 593.7L206.4 593.1L205.1 592.6L203.9 592.1L202.7 591.6L201.4 591.1L200.2 590.6L198.9 590.1L197.7 589.6L196.5 589.2L195.2 588.7L194 588.3L192.8 587.9L191.5 587.5L190.3 587.2L189 586.8L187.8 586.4L186.6 586.1L185.3 585.8L184.1 585.5L182.8 585.2L181.6 584.9L180.4 584.7L179.1 584.4L177.9 584.2L176.6 584L175.4 583.8L174.2 583.6L172.9 583.4L171.7 583.2L170.4 583.1L169.2 583L168 582.8L166.7 582.7L165.5 582.6L164.2 582.6L163 582.5L161.8 582.4L160.5 582.4L159.3 582.4L158.1 582.3L156.8 582.3L155.6 582.3L154.3 582.3L153.1 582.4L151.9 582.4L150.6 582.4L149.4 582.5L148.1 582.5L146.9 582.6L145.7 582.7L144.4 582.8L143.2 582.9L141.9 583L140.7 583.1L139.5 583.2L138.2 583.4L137 583.5L135.7 583.6L134.5 583.8L133.3 583.9L132 584.1L130.8 584.3L129.5 584.5L128.3 584.7L127.1 584.8L125.8 585L124.6 585.2L123.3 585.4L122.1 585.7L120.9 585.9L119.6 586.1L118.4 586.3L117.2 586.5L115.9 586.8L114.7 587L113.4 587.2L112.2 587.4L111 587.6L109.7 587.8L108.5 588L107.2 588.1L106 588.3L104.8 588.4L103.5 588.5L102.3 588.6L101 588.6L99.8 588.6L98.6 588.6L97.3 588.6L96.1 588.5L94.8 588.4L93.6 588.2L92.4 588.1L91.1 587.8L89.9 587.6L88.6 587.3L87.4 587.1L86.2 586.7L84.9 586.4L83.7 586.1L82.5 585.8L81.2 585.4L80 585L78.7 584.7L77.5 584.3L76.3 584L75 583.6L73.8 583.3L72.5 582.9L71.3 582.6L70.1 582.3L68.8 582L67.6 581.7L66.3 581.5L65.1 581.2L63.9 581L62.6 580.9L61.4 580.8L60.1 580.7L58.9 580.6L57.7 580.6L56.4 580.7L55.2 580.8L53.9 581L52.7 581.2L51.5 581.5L50.2 581.9L49 582.4L47.7 583L46.5 583.6L45.3 584.4L44 585.2L42.8 586.2L41.6 587.3L40.3 588.5L39.1 589.8L37.8 591.2L36.6 592.8L35.4 594.4L34.1 596.3L32.9 598.3Z" fill="rgb(0,0,139)" fill-opacity="0.3" clip-path="url(#c20)"/>
<path d="M23.4 580.35H240" stroke="#1a1a1a" stroke-width="0.95" stroke-dasharray="3.6 2.7" fill="none"/>
<path d="M32.9 549.1L34.1 549.8L35.4 550.5L36.6 551.3L37.8 552.1L39.1 552.9L40.3 553.7L41.6 554.5L42.8 555.3L44 556.2L45.3 557L46.5 557.9L47.7 558.7L49 559.6L50.2 560.5L51.5 561.3L52.7 562.2L53.9 563.1L55.2 563.9L56.4 564.8L57.7 565.7L58.9 566.5L60.1 567.4L61.4 568.2L62.6 569L63.9 569.9L65.1 570.7L66.3 571.5L67.6 572.2L68.8 573L70.1 573.7L71.3 574.5L72.5 575.2L73.8 575.9L75 576.6L76.3 577.2L77.5 577.8L78.7 578.5L80 579L81.2 579.6L82.5 580.1L83.7 580.6L84.9 581.1L86.2 581.6L87.4 582L88.6 582.4L89.9 582.8L91.1 583.1L92.4 583.4L93.6 583.6L94.8 583.9L96.1 584.1L97.3 584.2L98.6 584.3L99.8 584.4L101 584.5L102.3 584.5L103.5 584.5L104.8 584.5L106 584.4L107.2 584.3L108.5 584.2L109.7 584.1L111 584L112.2 583.9L113.4 583.7L114.7 583.6L115.9 583.4L117.2 583.2L118.4 583L119.6 582.8L120.9 582.7L122.1 582.5L123.3 582.3L124.6 582.1L125.8 581.9L127.1 581.8L128.3 581.6L129.5 581.4L130.8 581.3L132 581.1L133.3 580.9L134.5 580.8L135.7 580.6L137 580.4L138.2 580.3L139.5 580.1L140.7 580L141.9 579.8L143.2 579.7L144.4 579.6L145.7 579.4L146.9 579.3L148.1 579.2L149.4 579L150.6 578.9L151.9 578.8L153.1 578.7L154.3 578.6L155.6 578.5L156.8 578.4L158.1 578.3L159.3 578.2L160.5 578.1L161.8 578L163 578L164.2 577.9L165.5 577.8L166.7 577.8L168 577.7L169.2 577.7L170.4 577.7L171.7 577.6L172.9 577.6L174.2 577.6L175.4 577.6L176.6 577.6L177.9 577.6L179.1 577.6L180.4 577.6L181.6 577.6L182.8 577.7L184.1 577.7L185.3 577.8L186.6 577.8L187.8 577.9L189 578L190.3 578.1L191.5 578.1L192.8 578.2L194 578.4L195.2 578.5L196.5 578.6L197.7 578.7L198.9 578.9L200.2 579L201.4 579.2L202.7 579.4L203.9 579.6L205.1 579.8L206.4 580L207.6 580.2L208.9 580.4L210.1 580.7L211.3 580.9L212.6 581.2L213.8 581.5L215.1 581.7L216.3 582L217.5 582.3L218.8 582.7L220 583L221.3 583.3L222.5 583.7L223.7 584.1L225 584.4L226.2 584.8L227.5 585.2L228.7 585.7L229.9 586.1" stroke="#0a0a14" stroke-width="1.08" fill="none" stroke-linejoin="round" clip-path="url(#c20)"/>
<path d="M32.9 716.2V723.5" stroke="#000" stroke-width="0.8" stroke-opacity="0.75" fill="none"/>
<path d="M48.5 716.2V723.5M204.3 716.2V723.5M207.1 716.2V723.5M209.9 716.2V723.5M212.8 716.2V723.5M229.5 716.2V723.5" stroke="#000" stroke-width="0.9" fill="none"/>
<path d="M53.8 716.2V723.5" stroke="#000" stroke-width="1.0" stroke-opacity="0.5" fill="none"/>
<path d="M55.2 716.2V723.5" stroke="#000" stroke-width="1.0" fill="none"/>
<path d="M213.7 716.2V723.5" stroke="#000" stroke-width="0.7" stroke-opacity="0.5" fill="none"/>
<rect x="66.9" y="716.2" width="121.9" height="7.3" fill="#000"/>
<rect x="59.8" y="716.2" width="5.8" height="7.3" fill="#000"/>
<rect x="190" y="716.2" width="1.7" height="7.3" fill="#000"/>
<rect x="192.7" y="716.2" width="2" height="7.3" fill="#000"/>
<rect x="196.3" y="716.2" width="4.7" height="7.3" fill="#000"/>
<path d="M198.2 716V723.7" stroke="#fff" stroke-opacity="0.5" stroke-width="0.4" fill="none"/>
<path d="M199.6 716V723.7" stroke="#fff" stroke-opacity="0.4" stroke-width="0.4" fill="none"/>
<text x="64.8" y="739.6" transform="rotate(0.03 64.8 739.6)" font-size="7.8" fill="#000" stroke="#000" stroke-width="0.36" textLength="122.4" lengthAdjust="spacingAndGlyphs">Voting proportion right-wing liberal</text>
<text transform="translate(7.3 608.2) rotate(-90)" font-size="7.8" fill="#000" stroke="#000" stroke-width="0.36" text-anchor="middle" textLength="35.5" lengthAdjust="spacingAndGlyphs">Odds ratio</text>
</g>
<g id="p21">
<clipPath id="c21"><rect x="263.3" y="501.8" width="217.2" height="221.8"/></clipPath>
<path d="M263.3 511.5H480.5M263.3 517H480.5M263.3 522.9H480.5M263.3 529.5H480.5M263.3 536.9H480.5M263.3 545.2H480.5M263.3 554.9H480.5M263.3 566.3H480.5M263.3 580.2H480.5M263.3 598.2H480.5M263.3 623.5H480.5M263.3 666.8H480.5M270.4 501V723.6M291.9 501V723.6M313.4 501V723.6M334.9 501V723.6M356.4 501V723.6M377.9 501V723.6M399.4 501V723.6M420.9 501V723.6M442.4 501V723.6M463.9 501V723.6" stroke="#ededed" stroke-width="0.72" fill="none"/>
<g font-size="4.3" fill="#333" stroke="#333" stroke-width="0.13" text-anchor="end">
<text x="261.30" y="513.19" transform="rotate(0.04 261.30 513.19)">3.00</text>
<text x="261.30" y="518.62" transform="rotate(0.04 261.30 518.62)">2.75</text>
<text x="261.30" y="524.58" transform="rotate(0.04 261.30 524.58)">2.50</text>
<text x="261.30" y="531.17" transform="rotate(0.04 261.30 531.17)">2.25</text>
<text x="261.30" y="538.53" transform="rotate(0.04 261.30 538.53)">2.00</text>
<text x="261.30" y="546.87" transform="rotate(0.04 261.30 546.87)">1.75</text>
<text x="261.30" y="556.51" transform="rotate(0.04 261.30 556.51)">1.50</text>
<text x="261.30" y="567.90" transform="rotate(0.04 261.30 567.90)">1.25</text>
<text x="261.30" y="581.85" transform="rotate(0.04 261.30 581.85)">1.00</text>
<text x="261.30" y="599.83" transform="rotate(0.04 261.30 599.83)">0.75</text>
<text x="261.30" y="625.17" transform="rotate(0.04 261.30 625.17)">0.50</text>
<text x="261.30" y="668.49" transform="rotate(0.04 261.30 668.49)">0.25</text>
</g>
<g font-size="4.1" fill="#333" stroke="#333" stroke-width="0.13" text-anchor="middle">
<text x="270.40" y="729.10" transform="rotate(0.04 270.40 729.10)">0</text>
<text x="313.40" y="729.10" transform="rotate(0.04 313.40 729.10)">10</text>
<text x="356.40" y="729.10" transform="rotate(0.04 356.40 729.10)">20</text>
<text x="399.40" y="729.10" transform="rotate(0.04 399.40 729.10)">30</text>
<text x="442.40" y="729.10" transform="rotate(0.04 442.40 729.10)">40</text>
</g>
<path d="M273.4 579.8L274.1 576.7L274.8 575.8L275.4 575.3L276.1 575L276.7 574.7L277.4 574.5L278.1 574.2L278.7 574.1L279.4 573.9L280 573.8L280.7 573.6L281.4 573.5L282 573.4L282.7 573.2L283.3 573.1L284 572.9L284.7 572.8L285.3 572.6L286 572.5L286.6 572.3L287.3 572.2L288 572.1L288.6 571.9L289.3 571.8L289.9 571.7L290.6 571.6L291.3 571.5L291.9 571.4L292.6 571.3L293.2 571.3L293.9 571.2L294.6 571.1L295.2 571.1L295.9 571L296.5 570.9L297.2 570.9L297.9 570.8L298.5 570.8L299.2 570.8L299.8 570.8L300.5 570.8L301.2 570.9L301.8 570.9L302.5 571L303.1 571.1L303.8 571.3L304.5 571.4L305.1 571.6L305.8 571.7L306.4 571.9L307.1 572L307.8 572.2L308.4 572.4L309.1 572.5L309.7 572.7L310.4 573L311.1 573.2L311.7 573.4L312.4 573.7L313 573.9L313.7 574.2L314.4 574.5L315 574.9L315.7 575.2L316.3 575.6L317 575.9L317.7 576.3L318.3 576.6L319 576.9L319.6 577.2L320.3 577.5L321 577.9L321.6 578.2L322.3 578.5L322.9 578.8L323.6 579.1L324.3 579.4L324.9 579.6L325.6 579.7L326.2 579.8L326.9 579.8L327.6 579.8L328.2 579.8L328.9 579.8L329.5 579.8L330.2 579.8L330.9 579.8L331.5 579.7L332.2 579.7L332.8 579.5L333.5 579.3L334.2 579L334.8 578.8L335.5 578.7L336.1 578.6L336.8 578.6L337.5 578.6L338.1 578.7L338.8 578.7L339.4 578.8L340.1 578.9L340.8 579L341.4 579.2L342.1 579.4L342.7 579.7L343.4 580.1L344.1 580.4L344.7 580.6L345.4 580.9L346 581.1L346.7 581.4L347.4 581.6L348 581.8L348.7 582L349.3 582.2L350 582.3L350.7 582.5L351.3 582.6L352 582.7L352.6 582.7L353.3 582.7L354 582.5L354.6 582.1L355.3 581.7L355.9 581.2L356.6 580.7L357.3 580.2L357.9 579.7L358.6 579.2L359.2 578.7L359.9 578.2L360.6 577.6L361.2 577.1L361.9 576.6L362.5 576.2L363.2 575.9L363.9 575.6L364.5 575.4L365.2 575.1L365.8 574.9L366.5 574.7L367.2 574.6L367.8 574.4L368.5 574.3L369.1 574.2L369.8 574.2L370.5 574.1L371.1 574L371.8 574L372.4 573.9L373.1 573.8L373.8 573.7L374.4 573.6L375.1 573.5L375.7 573.4L376.4 573.2L377.1 573.1L377.7 572.9L378.4 572.8L379 572.6L379.7 572.4L380.4 572.2L381 572L381.7 571.8L382.4 571.4L383 571.1L383.7 570.7L384.3 570.3L385 569.9L385.7 569.4L386.3 569L387 568.5L387.6 567.9L388.3 567.3L389 566.7L389.6 566.1L390.3 565.5L390.9 565L391.6 564.6L392.3 564.3L392.9 564L393.6 563.7L394.2 563.4L394.9 563.2L395.6 563.1L396.2 563L396.9 563L397.5 563.1L398.2 563.2L398.9 563.3L399.5 563.5L400.2 563.7L400.8 563.9L401.5 564.1L402.2 564.4L402.8 564.7L403.5 565.1L404.1 565.4L404.8 565.8L405.5 566.2L406.1 566.5L406.8 566.8L407.4 567.1L408.1 567.4L408.8 567.7L409.4 568L410.1 568.3L410.7 568.6L411.4 568.7L412.1 568.8L412.7 568.8L413.4 568.8L414 568.8L414.7 568.8L415.4 568.8L416 568.8L416.7 568.8L417.3 568.8L418 568.8L418.7 568.8L419.3 568.6L420 568.4L420.6 568.2L421.3 567.9L422 567.6L422.6 567.3L423.3 567L423.9 566.7L424.6 566.4L425.3 566.1L425.9 565.7L426.6 565.3L427.2 564.9L427.9 564.4L428.6 563.9L429.2 563.3L429.9 562.6L430.5 561.9L431.2 561.1L431.9 560.2L432.5 559.3L433.2 558.4L433.8 557.5L434.5 556.6L435.2 555.6L435.8 554.5L436.5 553.4L437.1 552.2L437.8 551L438.5 549.7L439.1 548.5L439.8 547.3L440.4 546.1L441.1 545L441.8 544L442.4 543L443.1 542.1L443.7 541.1L444.4 540.2L445.1 539.3L445.7 538.4L446.4 537.6L447 536.7L447.7 535.9L448.4 535.1L449 534.3L449.7 533.5L450.3 532.8L451 532L451.7 531.3L452.3 530.6L453 529.8L453.6 529.1L454.3 528.4L455 527.7L455.6 527L456.3 526.4L456.9 525.7L457.6 525L458.3 524.4L458.9 523.7L459.6 523.1L460.2 522.5L460.9 521.8L461.6 521.2L462.2 520.5L462.9 519.9L463.5 519.2L464.2 518.6L464.9 518L465.5 517.4L466.2 516.7L466.8 516.1L467.5 515.5L468.2 514.9L468.8 514.2L469.5 513.6L470.1 513L470.8 512.4L470.8 577.1L470.1 576.4L469.5 575.8L468.8 575.2L468.2 574.6L467.5 574L466.8 573.5L466.2 573L465.5 572.4L464.9 571.9L464.2 571.4L463.5 570.9L462.9 570.4L462.2 570.1L461.6 569.8L460.9 569.5L460.2 569.4L459.6 569.2L458.9 569.1L458.3 569L457.6 569L456.9 569L456.3 569.1L455.6 569.1L455 569.2L454.3 569.3L453.6 569.5L453 569.7L452.3 569.9L451.7 570.2L451 570.5L450.3 570.8L449.7 571.1L449 571.5L448.4 571.9L447.7 572.2L447 572.7L446.4 573.2L445.7 573.7L445.1 574.3L444.4 574.9L443.7 575.5L443.1 576.1L442.4 576.8L441.8 577.5L441.1 578.1L440.4 578.8L439.8 579.5L439.1 580.3L438.5 581.1L437.8 581.9L437.1 582.7L436.5 583.4L435.8 584.2L435.2 584.9L434.5 585.5L433.8 586.2L433.2 586.8L432.5 587.4L431.9 588L431.2 588.6L430.5 589.1L429.9 589.7L429.2 590.1L428.6 590.6L427.9 590.9L427.2 591.3L426.6 591.6L425.9 591.9L425.2 592.2L424.6 592.5L423.9 592.7L423.3 592.8L422.6 592.9L421.9 593L421.3 593L420.6 593.1L420 593.1L419.3 593.2L418.6 593.2L418 593.2L417.3 593.1L416.7 593L416 592.8L415.3 592.6L414.7 592.3L414 592L413.4 591.7L412.7 591.4L412 591.1L411.4 590.7L410.7 590.3L410.1 589.9L409.4 589.4L408.7 588.9L408.1 588.3L407.4 587.8L406.8 587.3L406.1 586.8L405.4 586.2L404.8 585.6L404.1 584.9L403.5 584.3L402.8 583.7L402.1 583.1L401.5 582.6L400.8 582.2L400.2 581.8L399.5 581.4L398.8 581.1L398.2 580.8L397.5 580.6L396.9 580.4L396.2 580.4L395.5 580.4L394.9 580.4L394.2 580.5L393.6 580.5L392.9 580.6L392.2 580.7L391.6 580.7L390.9 580.8L390.3 581L389.6 581.3L388.9 581.5L388.3 581.8L387.6 582.1L387 582.4L386.3 582.7L385.6 582.9L385 583.2L384.3 583.5L383.7 583.8L383 584.1L382.3 584.3L381.7 584.5L381 584.5L380.4 584.6L379.7 584.6L379 584.6L378.4 584.6L377.7 584.6L377.1 584.6L376.4 584.6L375.7 584.6L375.1 584.6L374.4 584.6L373.8 584.6L373.1 584.5L372.4 584.4L371.8 584.1L371.1 583.7L370.5 583.3L369.8 582.8L369.1 582.4L368.5 582.2L367.8 582.1L367.2 582.1L366.5 582.2L365.8 582.3L365.2 582.5L364.5 582.8L363.9 583L363.2 583.3L362.5 583.5L361.9 583.9L361.2 584.5L360.5 585.1L359.9 585.7L359.2 586.3L358.6 586.8L357.9 587.2L357.2 587.5L356.6 587.8L355.9 588.1L355.3 588.4L354.6 588.6L353.9 588.8L353.3 588.9L352.6 588.9L352 588.8L351.3 588.6L350.6 588.4L350 588.2L349.3 588L348.7 587.7L348 587.4L347.3 587.1L346.7 586.7L346 586.3L345.4 586L344.7 585.6L344 585.3L343.4 584.8L342.7 584.4L342.1 583.9L341.4 583.6L340.7 583.4L340.1 583.4L339.4 583.4L338.8 583.4L338.1 583.4L337.4 583.4L336.8 583.4L336.1 583.4L335.5 583.5L334.8 583.8L334.1 584.1L333.5 584.5L332.8 584.9L332.2 585.2L331.5 585.5L330.8 585.7L330.2 585.8L329.5 586L328.9 586.1L328.2 586.2L327.5 586.3L326.9 586.4L326.2 586.4L325.6 586.4L324.9 586.3L324.2 586.3L323.6 586.2L322.9 586.1L322.3 586L321.6 585.9L320.9 585.8L320.3 585.6L319.6 585.5L319 585.4L318.3 585.3L317.6 585.1L317 585L316.3 584.8L315.7 584.7L315 584.6L314.3 584.5L313.7 584.4L313 584.4L312.4 584.4L311.7 584.4L311 584.4L310.4 584.4L309.7 584.4L309.1 584.4L308.4 584.4L307.7 584.4L307.1 584.5L306.4 584.7L305.8 584.9L305.1 585.1L304.4 585.4L303.8 585.7L303.1 586L302.5 586.3L301.8 586.6L301.1 586.9L300.5 587.2L299.8 587.6L299.2 588L298.5 588.4L297.8 588.8L297.2 589.2L296.5 589.7L295.8 590.2L295.2 590.7L294.5 591.3L293.9 591.9L293.2 592.5L292.5 593.2L291.9 593.9L291.2 594.7L290.6 595.5L289.9 596.3L289.2 597.2L288.6 598.2L287.9 599.3L287.3 600.4L286.6 601.7L285.9 603L285.3 604.5L284.6 606.2L284 608.1L283.3 610.3L282.6 612.7L282 615.2L281.3 617.9L280.7 621L280 624.4L279.3 628L278.7 631.9L278 636.2L277.4 641.1L276.7 646.6L276 652.8L275.4 660.2L274.7 669.3L274.1 680L273.4 692.9Z" fill="rgb(0,0,139)" fill-opacity="0.3" clip-path="url(#c21)"/>
<path d="M263.9 580.35H480.5" stroke="#1a1a1a" stroke-width="0.95" stroke-dasharray="3.6 2.7" fill="none"/>
<path d="M273.4 634.8L274.1 629.4L274.7 624.5L275.4 619.9L276 615.6L276.7 611.7L277.4 608.3L278 605.4L278.7 602.8L279.3 600.5L280 598.4L280.7 596.6L281.3 595.1L282 593.6L282.6 592.4L283.3 591.2L284 590.1L284.6 589.1L285.3 588.1L285.9 587.2L286.6 586.4L287.3 585.7L287.9 585L288.6 584.4L289.2 583.8L289.9 583.3L290.6 582.9L291.2 582.4L291.9 582L292.5 581.6L293.2 581.2L293.9 580.9L294.5 580.5L295.2 580.2L295.8 580L296.5 579.7L297.2 579.6L297.8 579.4L298.5 579.2L299.2 579L299.8 578.9L300.5 578.8L301.1 578.7L301.8 578.6L302.5 578.6L303.1 578.6L303.8 578.5L304.4 578.5L305.1 578.5L305.8 578.5L306.4 578.4L307.1 578.4L307.7 578.4L308.4 578.4L309.1 578.5L309.7 578.6L310.4 578.7L311 578.8L311.7 578.9L312.4 579.1L313 579.2L313.7 579.4L314.3 579.6L315 579.8L315.7 580L316.3 580.3L317 580.5L317.6 580.8L318.3 581L319 581.2L319.6 581.4L320.3 581.6L320.9 581.7L321.6 581.9L322.3 582.1L322.9 582.3L323.6 582.4L324.2 582.5L324.9 582.6L325.6 582.7L326.2 582.7L326.9 582.7L327.5 582.7L328.2 582.6L328.9 582.6L329.5 582.5L330.2 582.4L330.8 582.3L331.5 582.2L332.2 582.1L332.8 581.8L333.5 581.6L334.1 581.4L334.8 581.2L335.5 581L336.1 580.9L336.8 580.9L337.4 580.9L338.1 580.9L338.8 580.9L339.4 580.9L340.1 580.9L340.7 580.9L341.4 581.1L342.1 581.3L342.7 581.6L343.4 582L344 582.3L344.7 582.6L345.4 582.9L346 583.2L346.7 583.5L347.3 583.8L348 584.1L348.7 584.4L349.3 584.7L350 584.9L350.6 585.1L351.3 585.3L352 585.5L352.6 585.5L353.3 585.5L353.9 585.4L354.6 585.3L355.3 585.1L355.9 584.8L356.6 584.6L357.2 584.2L357.9 583.8L358.6 583.3L359.2 582.7L359.9 582.2L360.5 581.8L361.2 581.4L361.9 581L362.5 580.7L363.2 580.3L363.9 580L364.5 579.7L365.2 579.5L365.8 579.3L366.5 579.2L367.2 579.1L367.8 579.1L368.5 579L369.1 579L369.8 578.9L370.5 578.9L371.1 578.9L371.8 578.8L372.4 578.8L373.1 578.7L373.8 578.7L374.4 578.6L375.1 578.6L375.7 578.5L376.4 578.5L377.1 578.4L377.7 578.3L378.4 578.3L379 578.2L379.7 578.1L380.4 578L381 577.9L381.7 577.7L382.3 577.5L383 577.2L383.7 576.9L384.3 576.6L385 576.2L385.6 575.9L386.3 575.6L387 575.2L387.6 574.8L388.3 574.4L388.9 574L389.6 573.5L390.3 573.2L390.9 572.8L391.6 572.6L392.2 572.4L392.9 572.2L393.6 572L394.2 571.9L394.9 571.8L395.5 571.7L396.2 571.6L396.9 571.6L397.5 571.7L398.2 571.8L398.8 572L399.5 572.2L400.2 572.4L400.8 572.7L401.5 573L402.1 573.3L402.8 573.7L403.5 574.2L404.1 574.7L404.8 575.1L405.4 575.6L406.1 576L406.8 576.4L407.4 576.9L408.1 577.3L408.7 577.7L409.4 578.1L410.1 578.5L410.7 578.9L411.4 579.2L412 579.5L412.7 579.7L413.4 579.9L414 580.1L414.7 580.3L415.3 580.5L416 580.7L416.7 580.8L417.3 580.9L418 580.9L418.6 580.9L419.3 580.9L420 580.8L420.6 580.8L421.3 580.7L421.9 580.6L422.6 580.5L423.3 580.4L423.9 580.2L424.6 579.9L425.2 579.5L425.9 579.1L426.6 578.6L427.2 578.2L427.9 577.7L428.6 577.2L429.2 576.6L429.9 576L430.5 575.3L431.2 574.6L431.9 573.8L432.5 573L433.2 572.3L433.8 571.4L434.5 570.6L435.2 569.8L435.8 569L436.5 568.1L437.1 567.2L437.8 566.2L438.5 565.3L439.1 564.3L439.8 563.4L440.4 562.5L441.1 561.6L441.8 560.7L442.4 559.8L443.1 558.9L443.7 558.1L444.4 557.2L445.1 556.3L445.7 555.5L446.4 554.7L447 554L447.7 553.3L448.4 552.6L449 552L449.7 551.4L450.3 550.8L451 550.2L451.7 549.7L452.3 549.2L453 548.7L453.6 548.3L454.3 547.9L455 547.5L455.6 547.2L456.3 546.8L456.9 546.5L457.6 546.2L458.3 545.9L458.9 545.7L459.6 545.5L460.2 545.3L460.9 545.1L461.6 545L462.2 544.9L462.9 544.8L463.5 544.8L464.2 544.7L464.9 544.6L465.5 544.5L466.2 544.5L466.8 544.4L467.5 544.4L468.2 544.3L468.8 544.3L469.5 544.3L470.1 544.3L470.8 544.3" stroke="#0a0a14" stroke-width="1.08" fill="none" stroke-linejoin="round" clip-path="url(#c21)"/>
<path d="M274 716.2V723.5" stroke="#000" stroke-width="2.2" stroke-opacity="0.6" fill="none"/>
<path d="M278.1 716.2V723.5M470.5 716.2V723.5" stroke="#000" stroke-width="0.9" fill="none"/>
<path d="M446.8 716.2V723.5" stroke="#000" stroke-width="0.8" fill="none"/>
<path d="M449 716.2V723.5M453.6 716.2V723.5" stroke="#000" stroke-width="0.8" stroke-opacity="0.5" fill="none"/>
<rect x="280.1" y="716.2" width="154.7" height="7.3" fill="#000"/>
<rect x="436.5" y="716.2" width="1.1" height="7.3" fill="#000"/>
<rect x="439" y="716.2" width="1.1" height="7.3" fill="#000"/>
<rect x="441.5" y="716.2" width="2.1" height="7.3" fill="#000"/>
<rect x="451.9" y="716.2" width="1.3" height="7.3" fill="#000"/>
<path d="M400.8 716V723.7M404.2 716V723.7" stroke="#fff" stroke-opacity="0.3" stroke-width="0.3" fill="none"/>
<path d="M408.3 716V723.7M411.6 716V723.7M414.9 716V723.7" stroke="#fff" stroke-opacity="0.6" stroke-width="0.5" fill="none"/>
<path d="M417.2 716V723.7" stroke="#fff" stroke-opacity="0.75" stroke-width="0.9" fill="none"/>
<path d="M420 716V723.7M429 716V723.7" stroke="#fff" stroke-opacity="0.4" stroke-width="0.4" fill="none"/>
<path d="M422.4 716V723.7" stroke="#fff" stroke-opacity="0.75" stroke-width="1.1" fill="none"/>
<path d="M426.2 716V723.7" stroke="#fff" stroke-opacity="0.7" stroke-width="0.8" fill="none"/>
<path d="M431.5 716V723.7" stroke="#fff" stroke-opacity="0.5" stroke-width="0.4" fill="none"/>
<text x="314.1" y="739.6" transform="rotate(0.03 314.1 739.6)" font-size="7.8" fill="#000" stroke="#000" stroke-width="0.36" textLength="126.9" lengthAdjust="spacingAndGlyphs">Voting proportion progressive liberal</text>
<text transform="translate(247.8 608.2) rotate(-90)" font-size="7.8" fill="#000" stroke="#000" stroke-width="0.36" text-anchor="middle" textLength="35.5" lengthAdjust="spacingAndGlyphs">Odds ratio</text>
</g>
<g id="p22">
<clipPath id="c22"><rect x="504.2" y="501.8" width="217.2" height="221.8"/></clipPath>
<path d="M504.2 511.5H721.4M504.2 517H721.4M504.2 522.9H721.4M504.2 529.5H721.4M504.2 536.9H721.4M504.2 545.2H721.4M504.2 554.9H721.4M504.2 566.3H721.4M504.2 580.2H721.4M504.2 598.2H721.4M504.2 623.5H721.4M504.2 666.8H721.4M506.4 501V723.6M528 501V723.6M549.7 501V723.6M571.3 501V723.6M592.9 501V723.6M614.5 501V723.6M636.1 501V723.6M657.8 501V723.6M679.4 501V723.6M701 501V723.6" stroke="#ededed" stroke-width="0.72" fill="none"/>
<g font-size="4.3" fill="#333" stroke="#333" stroke-width="0.13" text-anchor="end">
<text x="502.20" y="513.19" transform="rotate(0.04 502.20 513.19)">3.00</text>
<text x="502.20" y="518.62" transform="rotate(0.04 502.20 518.62)">2.75</text>
<text x="502.20" y="524.58" transform="rotate(0.04 502.20 524.58)">2.50</text>
<text x="502.20" y="531.17" transform="rotate(0.04 502.20 531.17)">2.25</text>
<text x="502.20" y="538.53" transform="rotate(0.04 502.20 538.53)">2.00</text>
<text x="502.20" y="546.87" transform="rotate(0.04 502.20 546.87)">1.75</text>
<text x="502.20" y="556.51" transform="rotate(0.04 502.20 556.51)">1.50</text>
<text x="502.20" y="567.90" transform="rotate(0.04 502.20 567.90)">1.25</text>
<text x="502.20" y="581.85" transform="rotate(0.04 502.20 581.85)">1.00</text>
<text x="502.20" y="599.83" transform="rotate(0.04 502.20 599.83)">0.75</text>
<text x="502.20" y="625.17" transform="rotate(0.04 502.20 625.17)">0.50</text>
<text x="502.20" y="668.49" transform="rotate(0.04 502.20 668.49)">0.25</text>
</g>
<g font-size="4.1" fill="#333" stroke="#333" stroke-width="0.13" text-anchor="middle">
<text x="506.40" y="729.10" transform="rotate(0.04 506.40 729.10)">0</text>
<text x="549.70" y="729.10" transform="rotate(0.04 549.70 729.10)">10</text>
<text x="592.90" y="729.10" transform="rotate(0.04 592.90 729.10)">20</text>
<text x="636.10" y="729.10" transform="rotate(0.04 636.10 729.10)">30</text>
<text x="679.40" y="729.10" transform="rotate(0.04 679.40 729.10)">40</text>
</g>
<path d="M514.4 566.2L515.7 569.3L516.9 571.9L518.2 574L519.4 575.7L520.6 577L521.9 578.1L523.1 578.8L524.4 579.4L525.6 579.8L526.9 580L528.1 580.1L529.3 580.2L530.6 580.1L531.8 580L533.1 579.8L534.3 579.5L535.5 579.3L536.8 579L538 578.8L539.3 578.5L540.5 578.3L541.7 578.1L543 577.9L544.2 577.7L545.5 577.6L546.7 577.4L547.9 577.3L549.2 577.1L550.4 577L551.7 576.9L552.9 576.8L554.2 576.7L555.4 576.7L556.6 576.6L557.9 576.5L559.1 576.5L560.4 576.4L561.6 576.4L562.8 576.3L564.1 576.3L565.3 576.3L566.6 576.2L567.8 576.2L569 576.2L570.3 576.2L571.5 576.1L572.8 576.1L574 576.1L575.3 576.1L576.5 576L577.7 576L579 576L580.2 576L581.5 575.9L582.7 575.9L583.9 575.8L585.2 575.8L586.4 575.7L587.7 575.7L588.9 575.6L590.1 575.5L591.4 575.5L592.6 575.4L593.9 575.3L595.1 575.1L596.3 575L597.6 574.9L598.8 574.7L600.1 574.6L601.3 574.4L602.6 574.3L603.8 574.1L605 573.9L606.3 573.7L607.5 573.5L608.8 573.3L610 573L611.2 572.8L612.5 572.6L613.7 572.3L615 572L616.2 571.8L617.4 571.5L618.7 571.2L619.9 570.9L621.2 570.6L622.4 570.3L623.7 570L624.9 569.7L626.1 569.3L627.4 569L628.6 568.6L629.9 568.3L631.1 567.9L632.3 567.5L633.6 567.2L634.8 566.8L636.1 566.4L637.3 566L638.5 565.6L639.8 565.1L641 564.7L642.3 564.3L643.5 563.8L644.8 563.4L646 563L647.2 562.5L648.5 562L649.7 561.6L651 561.1L652.2 560.6L653.4 560.1L654.7 559.6L655.9 559.1L657.2 558.6L658.4 558.1L659.6 557.5L660.9 557L662.1 556.5L663.4 555.9L664.6 555.4L665.8 554.8L667.1 554.3L668.3 553.7L669.6 553.2L670.8 552.6L672.1 552L673.3 551.4L674.5 550.8L675.8 550.2L677 549.6L678.3 549L679.5 548.4L680.7 547.8L682 547.2L683.2 546.6L684.5 545.9L685.7 545.3L686.9 544.7L688.2 544L689.4 543.4L690.7 542.7L691.9 542.1L693.2 541.4L694.4 540.8L695.6 540.1L696.9 539.4L698.1 538.8L699.4 538.1L700.6 537.4L701.8 536.7L703.1 536L704.3 535.3L705.6 534.6L706.8 533.9L708 533.2L709.3 532.5L710.5 531.8L711.8 531.1L711.8 585.2L710.5 585.1L709.3 584.9L708 584.8L706.8 584.7L705.6 584.6L704.3 584.5L703.1 584.5L701.8 584.4L700.6 584.3L699.4 584.3L698.1 584.2L696.9 584.2L695.6 584.1L694.4 584.1L693.2 584.1L691.9 584L690.7 584L689.4 584L688.2 584L686.9 584L685.7 584L684.5 584L683.2 584L682 584.1L680.7 584.1L679.5 584.1L678.3 584.1L677 584.2L675.8 584.2L674.5 584.2L673.3 584.3L672.1 584.3L670.8 584.4L669.6 584.4L668.3 584.4L667.1 584.5L665.8 584.5L664.6 584.6L663.4 584.7L662.1 584.7L660.9 584.8L659.6 584.8L658.4 584.9L657.2 584.9L655.9 585L654.7 585L653.4 585.1L652.2 585.1L651 585.2L649.7 585.2L648.5 585.3L647.2 585.3L646 585.3L644.8 585.4L643.5 585.4L642.3 585.4L641 585.5L639.8 585.5L638.5 585.5L637.3 585.5L636.1 585.6L634.8 585.6L633.6 585.6L632.3 585.6L631.1 585.6L629.9 585.6L628.6 585.5L627.4 585.5L626.1 585.5L624.9 585.5L623.7 585.4L622.4 585.4L621.2 585.3L619.9 585.3L618.7 585.2L617.4 585.1L616.2 585.1L615 585L613.7 584.9L612.5 584.8L611.2 584.7L610 584.6L608.8 584.4L607.5 584.3L606.3 584.1L605 584L603.8 583.8L602.6 583.6L601.3 583.5L600.1 583.3L598.8 583.1L597.6 582.8L596.3 582.6L595.1 582.4L593.9 582.1L592.6 581.9L591.4 581.6L590.1 581.3L588.9 581.1L587.7 580.8L586.4 580.5L585.2 580.3L583.9 580.1L582.7 579.9L581.5 579.8L580.2 579.7L579 579.7L577.7 579.6L576.5 579.7L575.3 579.7L574 579.8L572.8 579.9L571.5 580.1L570.3 580.2L569 580.4L567.8 580.7L566.6 580.9L565.3 581.2L564.1 581.5L562.8 581.9L561.6 582.2L560.4 582.6L559.1 583L557.9 583.4L556.6 583.8L555.4 584.3L554.2 584.7L552.9 585.2L551.7 585.7L550.4 586.2L549.2 586.7L547.9 587.3L546.7 587.8L545.5 588.4L544.2 588.9L543 589.5L541.7 590.1L540.5 590.7L539.3 591.2L538 591.8L536.8 592.4L535.5 593L534.3 593.6L533.1 594.1L531.8 594.7L530.6 595.1L529.3 595.5L528.1 595.9L526.9 596.1L525.6 596.3L524.4 596.4L523.1 596.3L521.9 596.2L520.6 595.9L519.4 595.4L518.2 594.9L516.9 594.2L515.7 593.3L514.4 592.3Z" fill="rgb(0,0,139)" fill-opacity="0.3" clip-path="url(#c22)"/>
<path d="M504.8 580.35H721.4" stroke="#1a1a1a" stroke-width="0.95" stroke-dasharray="3.6 2.7" fill="none"/>
<path d="M514.4 580.6L515.7 582.1L516.9 583.4L518.2 584.5L519.4 585.5L520.6 586.3L521.9 587L523.1 587.5L524.4 587.9L525.6 588.2L526.9 588.4L528.1 588.5L529.3 588.5L530.6 588.4L531.8 588.2L533.1 588L534.3 587.7L535.5 587.4L536.8 587.1L538 586.7L539.3 586.3L540.5 585.9L541.7 585.5L543 585L544.2 584.6L545.5 584.1L546.7 583.7L547.9 583.2L549.2 582.7L550.4 582.3L551.7 581.9L552.9 581.4L554.2 581L555.4 580.6L556.6 580.2L557.9 579.9L559.1 579.6L560.4 579.3L561.6 579L562.8 578.8L564.1 578.6L565.3 578.4L566.6 578.2L567.8 578.1L569 578L570.3 577.9L571.5 577.9L572.8 577.9L574 577.8L575.3 577.8L576.5 577.8L577.7 577.9L579 577.9L580.2 577.9L581.5 578L582.7 578.1L583.9 578.1L585.2 578.2L586.4 578.2L587.7 578.3L588.9 578.4L590.1 578.4L591.4 578.5L592.6 578.5L593.9 578.6L595.1 578.6L596.3 578.6L597.6 578.6L598.8 578.7L600.1 578.7L601.3 578.6L602.6 578.6L603.8 578.6L605 578.6L606.3 578.5L607.5 578.5L608.8 578.4L610 578.3L611.2 578.3L612.5 578.2L613.7 578.1L615 578L616.2 577.9L617.4 577.8L618.7 577.7L619.9 577.6L621.2 577.4L622.4 577.3L623.7 577.2L624.9 577L626.1 576.9L627.4 576.7L628.6 576.5L629.9 576.4L631.1 576.2L632.3 576L633.6 575.8L634.8 575.6L636.1 575.4L637.3 575.2L638.5 575L639.8 574.8L641 574.6L642.3 574.4L643.5 574.2L644.8 573.9L646 573.7L647.2 573.5L648.5 573.2L649.7 573L651 572.7L652.2 572.5L653.4 572.2L654.7 572L655.9 571.7L657.2 571.4L658.4 571.2L659.6 570.9L660.9 570.6L662.1 570.3L663.4 570L664.6 569.8L665.8 569.5L667.1 569.2L668.3 568.9L669.6 568.6L670.8 568.3L672.1 568L673.3 567.7L674.5 567.4L675.8 567.1L677 566.8L678.3 566.5L679.5 566.2L680.7 565.9L682 565.6L683.2 565.3L684.5 565L685.7 564.7L686.9 564.4L688.2 564L689.4 563.7L690.7 563.4L691.9 563.1L693.2 562.8L694.4 562.5L695.6 562.2L696.9 561.9L698.1 561.6L699.4 561.3L700.6 561L701.8 560.6L703.1 560.3L704.3 560L705.6 559.7L706.8 559.4L708 559.1L709.3 558.8L710.5 558.5L711.8 558.2" stroke="#0a0a14" stroke-width="1.08" fill="none" stroke-linejoin="round" clip-path="url(#c22)"/>
<path d="M660.4 716.2V723.5" stroke="#000" stroke-width="0.7" fill="none"/>
<path d="M662.9 716.2V723.5M665.8 716.2V723.5M668.5 716.2V723.5M671.2 716.2V723.5M682.8 716.2V723.5M689.4 716.2V723.5M706 716.2V723.5M711.8 716.2V723.5" stroke="#000" stroke-width="0.9" fill="none"/>
<path d="M667.2 716.2V723.5M669.9 716.2V723.5" stroke="#000" stroke-width="0.8" stroke-opacity="0.55" fill="none"/>
<path d="M672.5 716.2V723.5" stroke="#000" stroke-width="0.8" stroke-opacity="0.6" fill="none"/>
<path d="M675.5 716.2V723.5M685.6 716.2V723.5" stroke="#000" stroke-width="1.0" fill="none"/>
<path d="M694.9 716.2V723.5" stroke="#000" stroke-width="1.2" fill="none"/>
<path d="M703.3 716.2V723.5" stroke="#000" stroke-width="1.2" stroke-opacity="0.6" fill="none"/>
<rect x="513.9" y="716.2" width="144" height="7.3" fill="#000"/>
<rect x="677.8" y="716.2" width="2.5" height="7.3" fill="#000"/>
<path d="M648 716V723.7" stroke="#fff" stroke-opacity="0.35" stroke-width="0.3" fill="none"/>
<path d="M650.4 716V723.7M655.8 716V723.7" stroke="#fff" stroke-opacity="0.4" stroke-width="0.3" fill="none"/>
<path d="M653.7 716V723.7" stroke="#fff" stroke-opacity="0.45" stroke-width="0.4" fill="none"/>
<text x="554.7" y="739.6" transform="rotate(0.03 554.7 739.6)" font-size="7.8" fill="#000" stroke="#000" stroke-width="0.36" textLength="119" lengthAdjust="spacingAndGlyphs">Voting proportion Christian middle</text>
<text transform="translate(488.7 608.2) rotate(-90)" font-size="7.8" fill="#000" stroke="#000" stroke-width="0.36" text-anchor="middle" textLength="35.5" lengthAdjust="spacingAndGlyphs">Odds ratio</text>
</g>
<g id="p30">
<clipPath id="c30"><rect x="22.8" y="751.2" width="217.2" height="221.8"/></clipPath>
<path d="M22.8 760.9H240M22.8 766.4H240M22.8 772.3H240M22.8 778.9H240M22.8 786.3H240M22.8 794.6H240M22.8 804.3H240M22.8 815.7H240M22.8 829.6H240M22.8 847.6H240M22.8 872.9H240M22.8 916.2H240M32.4 750.4V973M60.4 750.4V973M88.4 750.4V973M116.5 750.4V973M144.5 750.4V973M172.5 750.4V973M200.5 750.4V973M228.6 750.4V973" stroke="#ededed" stroke-width="0.72" fill="none"/>
<g font-size="4.3" fill="#333" stroke="#333" stroke-width="0.13" text-anchor="end">
<text x="20.80" y="762.59" transform="rotate(0.04 20.80 762.59)">3.00</text>
<text x="20.80" y="768.02" transform="rotate(0.04 20.80 768.02)">2.75</text>
<text x="20.80" y="773.98" transform="rotate(0.04 20.80 773.98)">2.50</text>
<text x="20.80" y="780.57" transform="rotate(0.04 20.80 780.57)">2.25</text>
<text x="20.80" y="787.93" transform="rotate(0.04 20.80 787.93)">2.00</text>
<text x="20.80" y="796.27" transform="rotate(0.04 20.80 796.27)">1.75</text>
<text x="20.80" y="805.91" transform="rotate(0.04 20.80 805.91)">1.50</text>
<text x="20.80" y="817.30" transform="rotate(0.04 20.80 817.30)">1.25</text>
<text x="20.80" y="831.25" transform="rotate(0.04 20.80 831.25)">1.00</text>
<text x="20.80" y="849.23" transform="rotate(0.04 20.80 849.23)">0.75</text>
<text x="20.80" y="874.57" transform="rotate(0.04 20.80 874.57)">0.50</text>
<text x="20.80" y="917.89" transform="rotate(0.04 20.80 917.89)">0.25</text>
</g>
<g font-size="4.1" fill="#333" stroke="#333" stroke-width="0.13" text-anchor="middle">
<text x="32.40" y="978.50" transform="rotate(0.04 32.40 978.50)">0</text>
<text x="88.60" y="978.50" transform="rotate(0.04 88.60 978.50)">20</text>
<text x="144.60" y="978.50" transform="rotate(0.04 144.60 978.50)">40</text>
<text x="200.60" y="978.50" transform="rotate(0.04 200.60 978.50)">60</text>
</g>
<path d="M32.1 797.5L32.8 804.6L33.4 808.1L34.1 810.4L34.7 812.3L35.4 814L36.1 815.4L36.7 816.6L37.4 817.6L38.1 818.4L38.7 819.2L39.4 819.9L40 820.5L40.7 821.1L41.4 821.6L42 822L42.7 822.4L43.3 822.8L44 823.2L44.7 823.6L45.3 823.9L46 824.2L46.6 824.5L47.3 824.8L48 825.1L48.6 825.4L49.3 825.7L49.9 826L50.6 826.4L51.3 826.7L51.9 827L52.6 827.3L53.2 827.7L53.9 828L54.6 828.3L55.2 828.7L55.9 829L56.5 829.4L57.2 829.7L57.9 830L58.5 830.4L59.2 830.8L59.8 831.2L60.5 831.5L61.2 832L61.8 832.4L62.5 832.9L63.2 833.3L63.8 833.8L64.5 834.3L65.1 834.8L65.8 835.3L66.5 835.9L67.1 836.4L67.8 836.9L68.4 837.5L69.1 838L69.8 838.6L70.4 839.1L71.1 839.7L71.7 840.2L72.4 840.8L73.1 841.3L73.7 841.9L74.4 842.4L75 842.9L75.7 843.4L76.4 843.9L77 844.4L77.7 844.9L78.3 845.4L79 845.8L79.7 846.3L80.3 846.8L81 847.3L81.6 847.7L82.3 848.2L83 848.6L83.6 849.1L84.3 849.6L84.9 850L85.6 850.5L86.3 850.9L86.9 851.3L87.6 851.8L88.2 852.2L88.9 852.7L89.6 853.1L90.2 853.6L90.9 854L91.6 854.4L92.2 854.9L92.9 855.3L93.5 855.7L94.2 856.1L94.9 856.6L95.5 857L96.2 857.4L96.8 857.8L97.5 858.2L98.2 858.7L98.8 859.1L99.5 859.5L100.1 859.9L100.8 860.3L101.5 860.7L102.1 861.1L102.8 861.5L103.4 861.9L104.1 862.3L104.8 862.7L105.4 863.1L106.1 863.4L106.7 863.8L107.4 864.2L108.1 864.6L108.7 865L109.4 865.4L110 865.8L110.7 866.1L111.4 866.5L112 866.9L112.7 867.2L113.3 867.6L114 867.9L114.7 868.3L115.3 868.6L116 868.9L116.7 869.3L117.3 869.6L118 869.9L118.6 870.2L119.3 870.5L120 870.8L120.6 871.1L121.3 871.4L121.9 871.7L122.6 872L123.3 872.3L123.9 872.6L124.6 872.9L125.2 873.2L125.9 873.4L126.6 873.7L127.2 874L127.9 874.3L128.5 874.5L129.2 874.8L129.9 875L130.5 875.3L131.2 875.6L131.8 875.8L132.5 876.1L133.2 876.3L133.8 876.5L134.5 876.8L135.1 877L135.8 877.2L136.5 877.4L137.1 877.6L137.8 877.9L138.4 878.1L139.1 878.3L139.8 878.5L140.4 878.7L141.1 879L141.8 879.2L142.4 879.4L143.1 879.6L143.7 879.9L144.4 880.1L145.1 880.4L145.7 880.6L146.4 880.9L147 881.1L147.7 881.4L148.4 881.7L149 882L149.7 882.2L150.3 882.5L151 882.8L151.7 883.1L152.3 883.4L153 883.6L153.6 883.9L154.3 884.2L155 884.5L155.6 884.8L156.3 885.1L156.9 885.3L157.6 885.6L158.3 885.9L158.9 886.2L159.6 886.4L160.2 886.7L160.9 887L161.6 887.3L162.2 887.5L162.9 887.8L163.5 888.1L164.2 888.4L164.9 888.7L165.5 888.9L166.2 889.2L166.9 889.5L167.5 889.8L168.2 890L168.8 890.3L169.5 890.6L170.2 890.8L170.8 891.1L171.5 891.3L172.1 891.6L172.8 891.8L173.5 892L174.1 892.3L174.8 892.5L175.4 892.7L176.1 892.9L176.8 893.2L177.4 893.4L178.1 893.6L178.7 893.8L179.4 894L180.1 894.2L180.7 894.4L181.4 894.6L182 894.8L182.7 895L183.4 895.2L184 895.4L184.7 895.6L185.3 895.8L186 896L186.7 896.2L187.3 896.4L188 896.6L188.6 896.8L189.3 897L190 897.2L190.6 897.4L191.3 897.6L192 897.8L192.6 897.9L193.3 898.1L193.9 898.3L194.6 898.5L195.3 898.7L195.9 898.9L196.6 899L197.2 899.2L197.9 899.4L198.6 899.6L199.2 899.8L199.9 899.9L200.5 900.1L201.2 900.3L201.9 900.4L202.5 900.6L203.2 900.8L203.8 901L204.5 901.1L205.2 901.3L205.8 901.5L206.5 901.6L207.1 901.8L207.8 902L208.5 902.1L209.1 902.3L209.8 902.4L210.4 902.6L211.1 902.8L211.8 902.9L212.4 903.1L213.1 903.2L213.7 903.4L214.4 903.5L215.1 903.7L215.7 903.8L216.4 903.9L217.1 904.1L217.7 904.2L218.4 904.4L219 904.5L219.7 904.6L220.4 904.8L221 904.9L221.7 905L222.3 905.2L223 905.3L223.7 905.4L224.3 905.5L225 905.7L225.6 905.8L226.3 905.9L227 906L227.6 906.2L228.3 906.3L228.9 906.4L229.6 906.5L229.6 995L228.9 994.5L228.3 994L227.6 993.5L227 993L226.3 992.4L225.6 991.9L225 991.4L224.3 990.9L223.7 990.4L223 989.9L222.3 989.3L221.7 988.8L221 988.3L220.4 987.8L219.7 987.2L219 986.7L218.4 986.2L217.7 985.7L217.1 985.1L216.4 984.6L215.7 984.1L215.1 983.5L214.4 983L213.7 982.5L213.1 982L212.4 981.4L211.8 980.9L211.1 980.3L210.4 979.8L209.8 979.3L209.1 978.7L208.5 978.2L207.8 977.7L207.1 977.1L206.5 976.6L205.8 976L205.2 975.5L204.5 974.9L203.8 974.4L203.2 973.9L202.5 973.3L201.9 972.8L201.2 972.2L200.5 971.7L199.9 971.1L199.2 970.6L198.6 970L197.9 969.5L197.2 968.9L196.6 968.3L195.9 967.8L195.3 967.2L194.6 966.6L193.9 966.1L193.3 965.5L192.6 965L192 964.4L191.3 963.8L190.6 963.3L190 962.7L189.3 962.1L188.6 961.6L188 961L187.3 960.4L186.7 959.9L186 959.3L185.3 958.7L184.7 958.2L184 957.6L183.4 957L182.7 956.5L182 955.9L181.4 955.3L180.7 954.8L180.1 954.2L179.4 953.6L178.7 953L178.1 952.5L177.4 951.9L176.8 951.3L176.1 950.8L175.4 950.2L174.8 949.6L174.1 949.1L173.5 948.5L172.8 947.9L172.1 947.4L171.5 946.8L170.8 946.3L170.2 945.7L169.5 945.1L168.8 944.6L168.2 944L167.5 943.5L166.9 942.9L166.2 942.3L165.5 941.8L164.9 941.2L164.2 940.6L163.5 940.1L162.9 939.5L162.2 938.9L161.6 938.4L160.9 937.8L160.2 937.2L159.6 936.7L158.9 936.1L158.3 935.5L157.6 935L156.9 934.4L156.3 933.8L155.6 933.3L155 932.7L154.3 932.1L153.6 931.5L153 931L152.3 930.4L151.7 929.8L151 929.2L150.3 928.6L149.7 928L149 927.4L148.4 926.8L147.7 926.2L147 925.6L146.4 924.9L145.7 924.3L145.1 923.6L144.4 923L143.7 922.3L143.1 921.6L142.4 920.9L141.8 920.2L141.1 919.4L140.4 918.7L139.8 918L139.1 917.2L138.4 916.6L137.8 915.9L137.1 915.2L136.5 914.6L135.8 914L135.1 913.4L134.5 912.8L133.8 912.2L133.2 911.6L132.5 910.9L131.8 910.3L131.2 909.7L130.5 909L129.9 908.4L129.2 907.7L128.5 907.1L127.9 906.4L127.2 905.8L126.6 905.1L125.9 904.4L125.2 903.7L124.6 903.1L123.9 902.4L123.3 901.7L122.6 901L121.9 900.4L121.3 899.7L120.6 899L120 898.3L119.3 897.7L118.6 897L118 896.3L117.3 895.6L116.7 895L116 894.3L115.3 893.6L114.7 892.9L114 892.3L113.3 891.6L112.7 890.9L112 890.3L111.4 889.6L110.7 888.9L110 888.2L109.4 887.6L108.7 886.9L108.1 886.2L107.4 885.5L106.7 884.9L106.1 884.2L105.4 883.5L104.8 882.8L104.1 882.2L103.4 881.5L102.8 880.8L102.1 880.1L101.5 879.5L100.8 878.8L100.1 878.1L99.5 877.4L98.8 876.7L98.2 876.1L97.5 875.4L96.8 874.7L96.2 874L95.5 873.3L94.9 872.6L94.2 872L93.5 871.3L92.9 870.6L92.2 869.9L91.6 869.2L90.9 868.5L90.2 867.8L89.6 867.1L88.9 866.4L88.2 865.7L87.6 865L86.9 864.3L86.3 863.6L85.6 862.9L84.9 862.2L84.3 861.5L83.6 860.8L83 860.1L82.3 859.4L81.6 858.6L81 857.9L80.3 857.2L79.7 856.5L79 855.8L78.3 855.1L77.7 854.4L77 853.7L76.4 852.9L75.7 852.2L75 851.5L74.4 850.8L73.7 850L73.1 849.3L72.4 848.5L71.7 847.8L71.1 847L70.4 846.3L69.8 845.5L69.1 844.8L68.4 844L67.8 843.3L67.1 842.5L66.5 841.8L65.8 841.1L65.1 840.4L64.5 839.8L63.8 839.1L63.2 838.5L62.5 837.9L61.8 837.3L61.2 836.7L60.5 836.2L59.8 835.7L59.2 835.2L58.5 834.7L57.9 834.2L57.2 833.8L56.5 833.3L55.9 832.9L55.2 832.5L54.6 832.1L53.9 831.8L53.2 831.4L52.6 831.1L51.9 830.7L51.3 830.4L50.6 830.1L49.9 829.8L49.3 829.6L48.6 829.3L48 829.1L47.3 828.9L46.6 828.7L46 828.5L45.3 828.3L44.7 828L44 827.8L43.3 827.5L42.7 827.2L42 826.9L41.4 826.5L40.7 826.1L40 825.7L39.4 825.2L38.7 824.6L38.1 823.9L37.4 823.1L36.7 822.3L36.1 821.3L35.4 820.1L34.7 818.8L34.1 817.4L33.4 815.8L32.8 813.8L32.1 810.7Z" fill="rgb(0,0,139)" fill-opacity="0.3" clip-path="url(#c30)"/>
<path d="M23.4 829.60H240" stroke="#1a1a1a" stroke-width="0.95" stroke-dasharray="3.6 2.7" fill="none"/>
<path d="M32.4 804.1L33.1 809L33.8 811.8L34.4 813.7L35.1 815.2L35.7 816.6L36.4 817.9L37.1 819L37.7 819.9L38.4 820.8L39 821.6L39.7 822.2L40.4 822.9L41 823.4L41.7 823.9L42.3 824.3L43 824.7L43.6 825L44.3 825.4L45 825.7L45.6 826L46.3 826.3L46.9 826.6L47.6 826.9L48.3 827.1L48.9 827.4L49.6 827.7L50.2 828L50.9 828.3L51.6 828.6L52.2 828.9L52.9 829.3L53.5 829.6L54.2 830L54.9 830.3L55.5 830.7L56.2 831.1L56.8 831.5L57.5 831.9L58.2 832.3L58.8 832.7L59.5 833.1L60.1 833.6L60.8 834.1L61.5 834.6L62.1 835.1L62.8 835.6L63.4 836.1L64.1 836.7L64.7 837.2L65.4 837.8L66.1 838.4L66.7 839L67.4 839.6L68 840.2L68.7 840.9L69.4 841.5L70 842.1L70.7 842.8L71.3 843.4L72 844L72.7 844.6L73.3 845.3L74 845.9L74.6 846.5L75.3 847.1L76 847.7L76.6 848.3L77.3 848.9L77.9 849.5L78.6 850.1L79.3 850.7L79.9 851.3L80.6 851.8L81.2 852.4L81.9 853L82.6 853.6L83.2 854.2L83.9 854.8L84.5 855.3L85.2 855.9L85.8 856.5L86.5 857.1L87.2 857.6L87.8 858.2L88.5 858.8L89.1 859.4L89.8 859.9L90.5 860.5L91.1 861.1L91.8 861.6L92.4 862.2L93.1 862.8L93.8 863.3L94.4 863.9L95.1 864.5L95.7 865L96.4 865.6L97.1 866.1L97.7 866.7L98.4 867.2L99 867.8L99.7 868.3L100.4 868.9L101 869.4L101.7 869.9L102.3 870.5L103 871L103.7 871.5L104.3 872.1L105 872.6L105.6 873.1L106.3 873.6L107 874.2L107.6 874.7L108.3 875.2L108.9 875.7L109.6 876.2L110.2 876.7L110.9 877.2L111.6 877.7L112.2 878.2L112.9 878.8L113.5 879.2L114.2 879.7L114.9 880.2L115.5 880.7L116.2 881.2L116.8 881.7L117.5 882.2L118.2 882.7L118.8 883.1L119.5 883.6L120.1 884.1L120.8 884.5L121.5 885L122.1 885.5L122.8 885.9L123.4 886.4L124.1 886.8L124.8 887.3L125.4 887.8L126.1 888.2L126.7 888.7L127.4 889.1L128.1 889.6L128.7 890L129.4 890.5L130 890.9L130.7 891.4L131.3 891.8L132 892.3L132.7 892.8L133.3 893.2L134 893.7L134.6 894.1L135.3 894.6L136 895L136.6 895.5L137.3 896L137.9 896.4L138.6 896.9L139.3 897.3L139.9 897.8L140.6 898.2L141.2 898.7L141.9 899.1L142.6 899.6L143.2 900L143.9 900.5L144.5 900.9L145.2 901.3L145.9 901.8L146.5 902.2L147.2 902.6L147.8 903.1L148.5 903.5L149.2 903.9L149.8 904.4L150.5 904.8L151.1 905.2L151.8 905.6L152.4 906.1L153.1 906.5L153.8 906.9L154.4 907.3L155.1 907.7L155.7 908.2L156.4 908.6L157.1 909L157.7 909.4L158.4 909.9L159 910.3L159.7 910.7L160.4 911.2L161 911.6L161.7 912L162.3 912.5L163 912.9L163.7 913.3L164.3 913.8L165 914.2L165.6 914.7L166.3 915.1L167 915.5L167.6 916L168.3 916.4L168.9 916.8L169.6 917.3L170.3 917.7L170.9 918.1L171.6 918.5L172.2 918.9L172.9 919.4L173.6 919.8L174.2 920.2L174.9 920.6L175.5 921L176.2 921.4L176.8 921.8L177.5 922.1L178.2 922.5L178.8 922.9L179.5 923.3L180.1 923.7L180.8 924.1L181.5 924.5L182.1 924.8L182.8 925.2L183.4 925.6L184.1 926L184.8 926.3L185.4 926.7L186.1 927.1L186.7 927.5L187.4 927.9L188.1 928.2L188.7 928.6L189.4 929L190 929.4L190.7 929.7L191.4 930.1L192 930.5L192.7 930.8L193.3 931.2L194 931.6L194.7 931.9L195.3 932.3L196 932.7L196.6 933L197.3 933.4L197.9 933.8L198.6 934.1L199.3 934.5L199.9 934.8L200.6 935.2L201.2 935.6L201.9 935.9L202.6 936.3L203.2 936.7L203.9 937L204.5 937.4L205.2 937.7L205.9 938.1L206.5 938.5L207.2 938.8L207.8 939.2L208.5 939.5L209.2 939.9L209.8 940.3L210.5 940.6L211.1 941L211.8 941.3L212.5 941.7L213.1 942L213.8 942.4L214.4 942.7L215.1 943.1L215.8 943.4L216.4 943.8L217.1 944.1L217.7 944.5L218.4 944.8L219 945.1L219.7 945.5L220.4 945.8L221 946.2L221.7 946.5L222.3 946.8L223 947.2L223.7 947.5L224.3 947.9L225 948.2L225.6 948.5L226.3 948.9L227 949.2L227.6 949.5L228.3 949.8L228.9 950.2L229.6 950.5" stroke="#0a0a14" stroke-width="1.08" fill="none" stroke-linejoin="round" clip-path="url(#c30)"/>
<path d="M100.4 965.6V972.9" stroke="#000" stroke-width="3.2" stroke-opacity="0.55" fill="none"/>
<path d="M110.4 965.6V972.9M112.9 965.6V972.9" stroke="#000" stroke-width="1.5" fill="none"/>
<path d="M115.5 965.6V972.9" stroke="#000" stroke-width="1.2" fill="none"/>
<path d="M118.9 965.6V972.9" stroke="#000" stroke-width="2.0" fill="none"/>
<path d="M129.7 965.6V972.9M131.9 965.6V972.9" stroke="#000" stroke-width="1.1" fill="none"/>
<path d="M147.7 965.6V972.9M152.4 965.6V972.9M154.5 965.6V972.9M163.5 965.6V972.9M184.4 965.6V972.9M229.5 965.6V972.9" stroke="#000" stroke-width="0.9" fill="none"/>
<path d="M150.5 965.6V972.9M177.2 965.6V972.9" stroke="#000" stroke-width="1.0" fill="none"/>
<path d="M167.8 965.6V972.9" stroke="#000" stroke-width="0.9" stroke-opacity="0.5" fill="none"/>
<rect x="31.9" y="965.6" width="45.3" height="7.3" fill="#000"/>
<rect x="78" y="965.6" width="3.7" height="7.3" fill="#000"/>
<rect x="82.7" y="965.6" width="2.8" height="7.3" fill="#000"/>
<rect x="86.7" y="965.6" width="3.8" height="7.3" fill="#000"/>
<rect x="91.6" y="965.6" width="2.5" height="7.3" fill="#000"/>
<rect x="95" y="965.6" width="2.9" height="7.3" fill="#000"/>
<rect x="105.4" y="965.6" width="2.5" height="7.3" fill="#000"/>
<rect x="138.3" y="965.6" width="3.3" height="7.3" fill="#000"/>
<rect x="142.9" y="965.6" width="2" height="7.3" fill="#000"/>
<rect x="158.2" y="965.6" width="2" height="7.3" fill="#000"/>
<rect x="173.1" y="965.6" width="2.5" height="7.3" fill="#000"/>
<path d="M53.5 965.4V973.1" stroke="#fff" stroke-opacity="0.3" stroke-width="0.3" fill="none"/>
<path d="M57 965.4V973.1M60.5 965.4V973.1" stroke="#fff" stroke-opacity="0.35" stroke-width="0.3" fill="none"/>
<path d="M64 965.4V973.1" stroke="#fff" stroke-opacity="0.4" stroke-width="0.4" fill="none"/>
<path d="M67.5 965.4V973.1M70.5 965.4V973.1" stroke="#fff" stroke-opacity="0.45" stroke-width="0.4" fill="none"/>
<path d="M73.5 965.4V973.1M75.8 965.4V973.1M88.6 965.4V973.1" stroke="#fff" stroke-opacity="0.5" stroke-width="0.4" fill="none"/>
<path d="M96.4 965.4V973.1" stroke="#fff" stroke-opacity="0.4" stroke-width="0.3" fill="none"/>
<text x="64.4" y="989" transform="rotate(0.03 64.4 989)" font-size="7.8" fill="#000" stroke="#000" stroke-width="0.36" textLength="132" lengthAdjust="spacingAndGlyphs">Voting proportion right-wing Christian</text>
<text transform="translate(7.3 857.6) rotate(-90)" font-size="7.8" fill="#000" stroke="#000" stroke-width="0.36" text-anchor="middle" textLength="35.5" lengthAdjust="spacingAndGlyphs">Odds ratio</text>
</g>
<g id="p31">
<clipPath id="c31"><rect x="263.3" y="751.2" width="217.2" height="221.8"/></clipPath>
<path d="M263.3 760.9H480.5M263.3 766.4H480.5M263.3 772.3H480.5M263.3 778.9H480.5M263.3 786.3H480.5M263.3 794.6H480.5M263.3 804.3H480.5M263.3 815.7H480.5M263.3 829.6H480.5M263.3 847.6H480.5M263.3 872.9H480.5M263.3 916.2H480.5M276.6 750.4V973M296.5 750.4V973M316.4 750.4V973M336.2 750.4V973M356.1 750.4V973M376 750.4V973M395.9 750.4V973M415.7 750.4V973M435.6 750.4V973M455.5 750.4V973" stroke="#ededed" stroke-width="0.72" fill="none"/>
<g font-size="4.3" fill="#333" stroke="#333" stroke-width="0.13" text-anchor="end">
<text x="261.30" y="762.59" transform="rotate(0.04 261.30 762.59)">3.00</text>
<text x="261.30" y="768.02" transform="rotate(0.04 261.30 768.02)">2.75</text>
<text x="261.30" y="773.98" transform="rotate(0.04 261.30 773.98)">2.50</text>
<text x="261.30" y="780.57" transform="rotate(0.04 261.30 780.57)">2.25</text>
<text x="261.30" y="787.93" transform="rotate(0.04 261.30 787.93)">2.00</text>
<text x="261.30" y="796.27" transform="rotate(0.04 261.30 796.27)">1.75</text>
<text x="261.30" y="805.91" transform="rotate(0.04 261.30 805.91)">1.50</text>
<text x="261.30" y="817.30" transform="rotate(0.04 261.30 817.30)">1.25</text>
<text x="261.30" y="831.25" transform="rotate(0.04 261.30 831.25)">1.00</text>
<text x="261.30" y="849.23" transform="rotate(0.04 261.30 849.23)">0.75</text>
<text x="261.30" y="874.57" transform="rotate(0.04 261.30 874.57)">0.50</text>
<text x="261.30" y="917.89" transform="rotate(0.04 261.30 917.89)">0.25</text>
</g>
<g font-size="4.1" fill="#333" stroke="#333" stroke-width="0.13" text-anchor="middle">
<text x="296.50" y="978.50" transform="rotate(0.04 296.50 978.50)">10</text>
<text x="336.20" y="978.50" transform="rotate(0.04 336.20 978.50)">20</text>
<text x="376.00" y="978.50" transform="rotate(0.04 376.00 978.50)">30</text>
<text x="415.70" y="978.50" transform="rotate(0.04 415.70 978.50)">40</text>
<text x="455.50" y="978.50" transform="rotate(0.04 455.50 978.50)">50</text>
</g>
<path d="M273.1 745L273.6 760L274.1 774.4L274.6 787.6L275.1 797.9L275.6 806.5L276.1 813.2L276.6 818.7L277.1 823.2L277.6 827L278.1 830.4L278.6 832.5L279 833.4L279.5 834.1L280 834.5L280.5 834.5L281 833.2L281.5 831.4L282 829.3L282.5 826.6L283 824L283.5 821.5L284 819.1L284.5 816.7L285 814.6L285.5 812.9L286 811.3L286.5 809.9L287 808.7L287.5 807.9L288 807.1L288.5 806.5L289 806L289.5 805.6L289.9 805.5L290.4 805.5L290.9 805.5L291.4 805.5L291.9 805.5L292.4 805.5L292.9 805.6L293.4 805.9L293.9 806.2L294.4 806.6L294.9 807.1L295.4 807.5L295.9 807.9L296.4 808.3L296.9 808.7L297.4 809.2L297.9 809.7L298.4 810.1L298.9 810.6L299.4 811L299.9 811.4L300.4 811.7L300.8 812.1L301.3 812.4L301.8 812.8L302.3 813.1L302.8 813.4L303.3 813.6L303.8 813.8L304.3 813.9L304.8 814.1L305.3 814.2L305.8 814.3L306.3 814.5L306.8 814.5L307.3 814.6L307.8 814.6L308.3 814.7L308.8 814.7L309.3 814.7L309.8 814.7L310.3 814.7L310.8 814.7L311.3 814.7L311.7 814.7L312.2 814.7L312.7 814.7L313.2 814.7L313.7 814.8L314.2 814.9L314.7 815L315.2 815.1L315.7 815.3L316.2 815.4L316.7 815.6L317.2 815.9L317.7 816.2L318.2 816.6L318.7 817L319.2 817.4L319.7 817.9L320.2 818.4L320.7 818.9L321.2 819.5L321.7 820.1L322.2 820.7L322.7 821.2L323.1 821.8L323.6 822.3L324.1 822.9L324.6 823.5L325.1 824L325.6 824.6L326.1 825.1L326.6 825.5L327.1 825.9L327.6 826.2L328.1 826.5L328.6 826.8L329.1 827.1L329.6 827.3L330.1 827.5L330.6 827.7L331.1 827.9L331.6 828L332.1 828.1L332.6 828.2L333.1 828.3L333.6 828.3L334 828.4L334.5 828.5L335 828.6L335.5 828.6L336 828.7L336.5 828.8L337 828.9L337.5 828.9L338 829L338.5 829.1L339 829.2L339.5 829.3L340 829.3L340.5 829.4L341 829.5L341.5 829.6L342 829.7L342.5 829.9L343 830L343.5 830.1L344 830.3L344.5 830.4L344.9 830.5L345.4 830.7L345.9 830.8L346.4 831L346.9 831.1L347.4 831.3L347.9 831.4L348.4 831.6L348.9 831.7L349.4 831.9L349.9 832L350.4 832.2L350.9 832.3L351.4 832.5L351.9 832.6L352.4 832.8L352.9 832.9L353.4 833L353.9 833.2L354.4 833.3L354.9 833.4L355.4 833.5L355.8 833.6L356.3 833.7L356.8 833.9L357.3 834L357.8 834.1L358.3 834.2L358.8 834.4L359.3 834.5L359.8 834.6L360.3 834.8L360.8 835L361.3 835.2L361.8 835.5L362.3 835.7L362.8 835.9L363.3 836.1L363.8 836.2L364.3 836.3L364.8 836.4L365.3 836.4L365.8 836.4L366.3 836.4L366.8 836.3L367.2 836.3L367.7 836.3L368.2 836.2L368.7 836.2L369.2 836.2L369.7 836.1L370.2 836.1L370.7 836.1L371.2 836.1L371.7 836.1L372.2 836.1L372.7 836.1L373.2 836.2L373.7 836.3L374.2 836.4L374.7 836.6L375.2 836.7L375.7 836.9L376.2 837L376.7 837.2L377.2 837.4L377.7 837.5L378.1 837.7L378.6 837.8L379.1 838L379.6 838.1L380.1 838.2L380.6 838.4L381.1 838.5L381.6 838.7L382.1 838.8L382.6 839L383.1 839.2L383.6 839.3L384.1 839.5L384.6 839.6L385.1 839.8L385.6 839.9L386.1 840.1L386.6 840.2L387.1 840.4L387.6 840.5L388.1 840.7L388.6 840.9L389 841L389.5 841.2L390 841.3L390.5 841.4L391 841.6L391.5 841.7L392 841.8L392.5 841.9L393 842L393.5 842.1L394 842.2L394.5 842.3L395 842.4L395.5 842.5L396 842.6L396.5 842.7L397 842.8L397.5 842.9L398 843L398.5 843.1L399 843.2L399.5 843.3L399.9 843.4L400.4 843.5L400.9 843.6L401.4 843.7L401.9 843.8L402.4 843.9L402.9 844L403.4 844.1L403.9 844.2L404.4 844.3L404.9 844.4L405.4 844.4L405.9 844.5L406.4 844.6L406.9 844.6L407.4 844.7L407.9 844.8L408.4 844.8L408.9 844.9L409.4 844.9L409.9 845L410.4 845L410.8 845L411.3 845L411.8 845L412.3 845L412.8 845L413.3 844.9L413.8 844.9L414.3 844.9L414.8 844.8L415.3 844.8L415.8 844.8L416.3 844.7L416.8 844.7L417.3 844.7L417.8 844.7L418.3 844.7L418.8 844.7L419.3 844.7L419.8 844.7L420.3 844.7L420.8 844.7L421.3 844.7L421.8 844.7L422.2 844.7L422.7 844.7L423.2 844.7L423.7 844.7L424.2 844.7L424.7 844.7L425.2 844.7L425.7 844.7L426.2 844.7L426.7 844.8L427.2 844.8L427.7 844.9L428.2 845L428.7 845L429.2 845.1L429.7 845.2L430.2 845.3L430.7 845.4L431.2 845.5L431.7 845.6L432.2 845.7L432.7 845.8L433.1 846L433.6 846.2L434.1 846.4L434.6 846.6L435.1 846.8L435.6 847L436.1 847.3L436.6 847.5L437.1 847.7L437.6 847.9L438.1 848L438.6 848.2L439.1 848.4L439.6 848.6L440.1 848.8L440.6 849L441.1 849.1L441.6 849.3L442.1 849.4L442.6 849.6L443.1 849.7L443.6 849.8L444 849.9L444.5 850L445 850.1L445.5 850.1L446 850.1L446.5 850.1L447 850.1L447.5 850L448 849.9L448.5 849.7L449 849.5L449.5 849.4L450 849.1L450.5 848.8L451 848.4L451.5 847.9L452 847.4L452.5 846.8L453 846.3L453.5 845.7L454 845L454.5 844.3L454.9 843.5L455.4 842.7L455.9 841.8L456.4 841L456.9 840L457.4 839L457.9 838L458.4 836.9L458.9 835.7L459.4 834.5L459.9 833.3L460.4 832.1L460.9 830.9L461.4 829.7L461.9 828.4L462.4 827.1L462.9 825.7L463.4 824.2L463.9 822.7L464.4 821.1L464.9 819.4L465.4 817.5L465.8 815.4L466.3 813.2L466.8 811L467.3 808.7L467.8 806.5L468.3 804.2L468.8 801.8L469.3 799.4L469.8 797L470.3 794.5L470.8 791.9L470.8 865.4L470.3 866.5L469.8 867.7L469.3 868.8L468.8 869.9L468.3 870.9L467.9 872L467.4 873L466.9 874L466.4 875L465.9 876L465.4 877L464.9 877.9L464.4 878.8L463.9 879.8L463.4 880.7L462.9 881.6L462.4 882.5L462 883.4L461.5 884.2L461 885.1L460.5 885.9L460 886.8L459.5 887.6L459 888.4L458.5 889.3L458 890.1L457.5 890.8L457 891.6L456.5 892.3L456.1 893L455.6 893.6L455.1 894.3L454.6 894.9L454.1 895.5L453.6 896.1L453.1 896.7L452.6 897.2L452.1 897.7L451.6 898.2L451.1 898.7L450.6 899.1L450.2 899.6L449.7 900L449.2 900.4L448.7 900.8L448.2 901.2L447.7 901.6L447.2 901.9L446.7 902.2L446.2 902.4L445.7 902.6L445.2 902.8L444.7 903L444.2 903.2L443.8 903.4L443.3 903.6L442.8 903.7L442.3 903.8L441.8 903.9L441.3 903.9L440.8 903.9L440.3 903.9L439.8 903.8L439.3 903.8L438.8 903.8L438.3 903.8L437.9 903.7L437.4 903.7L436.9 903.6L436.4 903.6L435.9 903.5L435.4 903.3L434.9 903.1L434.4 902.9L433.9 902.6L433.4 902.2L432.9 901.9L432.4 901.5L432 901.2L431.5 900.8L431 900.5L430.5 900.1L430 899.7L429.5 899.3L429 898.8L428.5 898.3L428 897.9L427.5 897.4L427 896.9L426.5 896.3L426.1 895.8L425.6 895.3L425.1 894.8L424.6 894.3L424.1 893.8L423.6 893.2L423.1 892.7L422.6 892.1L422.1 891.6L421.6 891L421.1 890.4L420.6 889.9L420.2 889.3L419.7 888.7L419.2 888.2L418.7 887.6L418.2 887.1L417.7 886.6L417.2 886.1L416.7 885.5L416.2 885L415.7 884.5L415.2 884L414.7 883.5L414.3 883L413.8 882.6L413.3 882.1L412.8 881.6L412.3 881.1L411.8 880.7L411.3 880.2L410.8 879.8L410.3 879.3L409.8 878.9L409.3 878.4L408.8 878L408.4 877.5L407.9 877.1L407.4 876.7L406.9 876.3L406.4 875.8L405.9 875.4L405.4 875L404.9 874.6L404.4 874.2L403.9 873.8L403.4 873.5L402.9 873.1L402.5 872.7L402 872.3L401.5 872L401 871.6L400.5 871.3L400 870.9L399.5 870.5L399 870.2L398.5 869.8L398 869.4L397.5 869.1L397 868.7L396.5 868.3L396.1 868L395.6 867.6L395.1 867.3L394.6 866.9L394.1 866.5L393.6 866.1L393.1 865.8L392.6 865.4L392.1 865L391.6 864.7L391.1 864.3L390.6 863.9L390.2 863.5L389.7 863.1L389.2 862.7L388.7 862.3L388.2 861.9L387.7 861.5L387.2 861.1L386.7 860.7L386.2 860.3L385.7 859.9L385.2 859.5L384.7 859.1L384.3 858.7L383.8 858.3L383.3 857.9L382.8 857.5L382.3 857.1L381.8 856.6L381.3 856.2L380.8 855.8L380.3 855.4L379.8 855L379.3 854.6L378.8 854.2L378.4 853.9L377.9 853.5L377.4 853.2L376.9 852.8L376.4 852.5L375.9 852.2L375.4 851.9L374.9 851.6L374.4 851.3L373.9 851L373.4 850.7L372.9 850.4L372.5 850.1L372 849.8L371.5 849.6L371 849.3L370.5 849L370 848.7L369.5 848.4L369 848.1L368.5 847.9L368 847.6L367.5 847.3L367 847.1L366.6 846.9L366.1 846.7L365.6 846.5L365.1 846.4L364.6 846.2L364.1 846.1L363.6 846L363.1 846L362.6 845.9L362.1 845.8L361.6 845.8L361.1 845.7L360.7 845.6L360.2 845.5L359.7 845.4L359.2 845.2L358.7 845.1L358.2 844.8L357.7 844.6L357.2 844.3L356.7 844L356.2 843.7L355.7 843.4L355.2 843.1L354.7 842.8L354.3 842.4L353.8 842.1L353.3 841.8L352.8 841.5L352.3 841.2L351.8 840.8L351.3 840.5L350.8 840.2L350.3 839.8L349.8 839.5L349.3 839.1L348.8 838.8L348.4 838.4L347.9 838.1L347.4 837.8L346.9 837.4L346.4 837.1L345.9 836.8L345.4 836.5L344.9 836.2L344.4 835.9L343.9 835.6L343.4 835.3L342.9 835.1L342.5 834.8L342 834.5L341.5 834.3L341 834.1L340.5 833.9L340 833.7L339.5 833.6L339 833.4L338.5 833.2L338 833.1L337.5 832.9L337 832.8L336.6 832.6L336.1 832.5L335.6 832.4L335.1 832.2L334.6 832.1L334.1 832L333.6 831.9L333.1 831.7L332.6 831.6L332.1 831.5L331.6 831.3L331.1 831.2L330.7 831L330.2 830.9L329.7 830.7L329.2 830.5L328.7 830.3L328.2 830.1L327.7 829.9L327.2 829.6L326.7 829.3L326.2 829L325.7 828.6L325.2 828.2L324.8 827.8L324.3 827.3L323.8 826.9L323.3 826.5L322.8 826.1L322.3 825.7L321.8 825.2L321.3 824.8L320.8 824.4L320.3 824L319.8 823.6L319.3 823.3L318.9 822.9L318.4 822.6L317.9 822.2L317.4 821.9L316.9 821.7L316.4 821.6L315.9 821.6L315.4 821.7L314.9 821.8L314.4 822L313.9 822.1L313.4 822.3L313 822.4L312.5 822.6L312 822.7L311.5 822.8L311 822.9L310.5 823L310 823.1L309.5 823.2L309 823.2L308.5 823.3L308 823.3L307.5 823.3L307 823.2L306.6 823.2L306.1 823.2L305.6 823.1L305.1 823.1L304.6 823L304.1 823L303.6 822.9L303.1 822.8L302.6 822.6L302.1 822.5L301.6 822.3L301.1 822.1L300.7 821.9L300.2 821.7L299.7 821.6L299.2 821.4L298.7 821.2L298.2 821L297.7 820.8L297.2 820.5L296.7 820.3L296.2 820.2L295.7 820L295.2 819.8L294.8 819.7L294.3 819.5L293.8 819.4L293.3 819.2L292.8 819.2L292.3 819.1L291.8 819.2L291.3 819.3L290.8 819.5L290.3 819.7L289.8 820L289.3 820.3L288.9 820.8L288.4 821.4L287.9 822.1L287.4 822.9L286.9 824L286.4 825.4L285.9 827.1L285.4 828.8L284.9 830.6L284.4 832.5L283.9 834.6L283.4 836.8L283 839.2L282.5 842.2L282 845.1L281.5 847.3L281 849.2L280.5 850.3L280 849.7L279.5 847.7L279 844.2L278.5 836.4L278 827.5L277.5 817.5L277.1 807.5L276.6 798L276.1 787.1L275.6 774.2L275.1 759.9L274.6 745Z" fill="rgb(0,0,139)" fill-opacity="0.3" clip-path="url(#c31)"/>
<path d="M263.9 829.60H480.5" stroke="#1a1a1a" stroke-width="0.95" stroke-dasharray="3.6 2.7" fill="none"/>
<path d="M273.8 745L274.3 763.3L274.8 776.6L275.3 789.4L275.8 799.2L276.3 807.5L276.8 814.3L277.3 820.3L277.8 825.3L278.3 829.4L278.8 832.9L279.3 835.6L279.8 837.7L280.3 839.1L280.8 838.9L281.3 837.8L281.7 836.5L282.2 834.4L282.7 831.9L283.2 829.5L283.7 827.4L284.2 825.2L284.7 823.1L285.2 821.3L285.7 819.7L286.2 818.2L286.7 816.9L287.2 815.8L287.7 815L288.2 814.3L288.7 813.6L289.1 813.1L289.6 812.8L290.1 812.6L290.6 812.4L291.1 812.3L291.6 812.2L292.1 812.2L292.6 812.2L293.1 812.3L293.6 812.4L294.1 812.6L294.6 812.8L295.1 813.1L295.6 813.3L296.1 813.5L296.6 813.8L297 814.1L297.5 814.4L298 814.7L298.5 815.1L299 815.4L299.5 815.7L300 815.9L300.5 816.2L301 816.4L301.5 816.7L302 816.9L302.5 817.1L303 817.3L303.5 817.5L304 817.6L304.5 817.8L304.9 817.9L305.4 818L305.9 818.2L306.4 818.3L306.9 818.4L307.4 818.4L307.9 818.5L308.4 818.5L308.9 818.4L309.4 818.4L309.9 818.4L310.4 818.3L310.9 818.3L311.4 818.2L311.9 818.2L312.4 818.1L312.8 818.1L313.3 818.1L313.8 818L314.3 818L314.8 818L315.3 818L315.8 818L316.3 818L316.8 818L317.3 818.2L317.8 818.5L318.3 818.9L318.8 819.2L319.3 819.6L319.8 820L320.2 820.4L320.7 820.9L321.2 821.4L321.7 821.9L322.2 822.5L322.7 823L323.2 823.5L323.7 824L324.2 824.5L324.7 825.1L325.2 825.6L325.7 826.1L326.2 826.6L326.7 827L327.2 827.4L327.7 827.8L328.1 828.1L328.6 828.4L329.1 828.7L329.6 828.9L330.1 829.2L330.6 829.4L331.1 829.5L331.6 829.6L332.1 829.8L332.6 829.8L333.1 829.9L333.6 830L334.1 830.1L334.6 830.1L335.1 830.2L335.6 830.3L336 830.4L336.5 830.5L337 830.6L337.5 830.7L338 830.8L338.5 830.9L339 831.1L339.5 831.2L340 831.3L340.5 831.5L341 831.6L341.5 831.8L342 832L342.5 832.1L343 832.3L343.4 832.5L343.9 832.7L344.4 832.9L344.9 833.2L345.4 833.4L345.9 833.6L346.4 833.8L346.9 834L347.4 834.3L347.9 834.5L348.4 834.8L348.9 835L349.4 835.3L349.9 835.5L350.4 835.8L350.9 836L351.3 836.3L351.8 836.5L352.3 836.8L352.8 837L353.3 837.2L353.8 837.5L354.3 837.7L354.8 837.9L355.3 838.2L355.8 838.4L356.3 838.6L356.8 838.8L357.3 839L357.8 839.2L358.3 839.4L358.8 839.6L359.2 839.8L359.7 839.9L360.2 840.1L360.7 840.2L361.2 840.4L361.7 840.5L362.2 840.7L362.7 840.8L363.2 840.9L363.7 841L364.2 841.2L364.7 841.3L365.2 841.4L365.7 841.5L366.2 841.6L366.6 841.7L367.1 841.8L367.6 841.9L368.1 842L368.6 842L369.1 842.1L369.6 842.2L370.1 842.3L370.6 842.4L371.1 842.5L371.6 842.7L372.1 842.8L372.6 843L373.1 843.1L373.6 843.3L374.1 843.5L374.5 843.7L375 844L375.5 844.2L376 844.4L376.5 844.7L377 844.9L377.5 845.1L378 845.4L378.5 845.6L379 845.9L379.5 846.1L380 846.4L380.5 846.7L381 847L381.5 847.3L382 847.6L382.4 847.9L382.9 848.2L383.4 848.5L383.9 848.8L384.4 849L384.9 849.3L385.4 849.6L385.9 849.9L386.4 850.2L386.9 850.4L387.4 850.7L387.9 851L388.4 851.3L388.9 851.5L389.4 851.8L389.8 852.1L390.3 852.3L390.8 852.6L391.3 852.9L391.8 853.1L392.3 853.4L392.8 853.6L393.3 853.9L393.8 854.1L394.3 854.4L394.8 854.6L395.3 854.9L395.8 855.1L396.3 855.3L396.8 855.6L397.3 855.8L397.7 856.1L398.2 856.3L398.7 856.6L399.2 856.8L399.7 857.1L400.2 857.3L400.7 857.5L401.2 857.8L401.7 858L402.2 858.3L402.7 858.5L403.2 858.8L403.7 859L404.2 859.3L404.7 859.5L405.2 859.8L405.6 860L406.1 860.3L406.6 860.6L407.1 860.8L407.6 861.1L408.1 861.4L408.6 861.7L409.1 861.9L409.6 862.2L410.1 862.5L410.6 862.8L411.1 863L411.6 863.3L412.1 863.6L412.6 863.9L413.1 864.2L413.5 864.5L414 864.7L414.5 865L415 865.3L415.5 865.6L416 865.9L416.5 866.2L417 866.4L417.5 866.7L418 867L418.5 867.3L419 867.6L419.5 867.9L420 868.2L420.5 868.5L420.9 868.8L421.4 869.1L421.9 869.3L422.4 869.6L422.9 869.9L423.4 870.2L423.9 870.5L424.4 870.7L424.9 871L425.4 871.2L425.9 871.5L426.4 871.7L426.9 872L427.4 872.2L427.9 872.5L428.4 872.7L428.8 873L429.3 873.2L429.8 873.4L430.3 873.6L430.8 873.8L431.3 874L431.8 874.2L432.3 874.4L432.8 874.6L433.3 874.8L433.8 875L434.3 875.2L434.8 875.3L435.3 875.5L435.8 875.7L436.3 875.8L436.7 875.9L437.2 876.1L437.7 876.1L438.2 876.2L438.7 876.3L439.2 876.4L439.7 876.4L440.2 876.5L440.7 876.6L441.2 876.6L441.7 876.6L442.2 876.7L442.7 876.7L443.2 876.7L443.7 876.7L444.1 876.6L444.6 876.5L445.1 876.4L445.6 876.3L446.1 876.2L446.6 876.1L447.1 875.9L447.6 875.8L448.1 875.6L448.6 875.4L449.1 875.1L449.6 874.8L450.1 874.4L450.6 874L451.1 873.5L451.6 873L452 872.6L452.5 872.1L453 871.5L453.5 870.9L454 870.3L454.5 869.6L455 868.9L455.5 868.1L456 867.4L456.5 866.6L457 865.8L457.5 865L458 864.1L458.5 863.1L459 862.2L459.5 861.2L459.9 860.1L460.4 859.1L460.9 858L461.4 856.8L461.9 855.6L462.4 854.4L462.9 853.1L463.4 851.8L463.9 850.5L464.4 849.1L464.9 847.8L465.4 846.4L465.9 844.9L466.4 843.4L466.9 841.9L467.3 840.4L467.8 838.8L468.3 837.2L468.8 835.6L469.3 834L469.8 832.3L470.3 830.6L470.8 828.9" stroke="#0a0a14" stroke-width="1.08" fill="none" stroke-linejoin="round" clip-path="url(#c31)"/>
<path d="M272.9 965.6V972.9" stroke="#000" stroke-width="0.8" fill="none"/>
<path d="M403.6 965.6V972.9" stroke="#000" stroke-width="1.4" stroke-opacity="0.6" fill="none"/>
<path d="M405 965.6V972.9" stroke="#000" stroke-width="0.9" stroke-opacity="0.4" fill="none"/>
<path d="M407.1 965.6V972.9M409.4 965.6V972.9M411.6 965.6V972.9M413.8 965.6V972.9M416.1 965.6V972.9" stroke="#000" stroke-width="1.0" fill="none"/>
<path d="M441.6 965.6V972.9" stroke="#000" stroke-width="1.8" stroke-opacity="0.6" fill="none"/>
<path d="M455.6 965.6V972.9M470.5 965.6V972.9" stroke="#000" stroke-width="0.9" fill="none"/>
<rect x="275.1" y="965.6" width="127.4" height="7.3" fill="#000"/>
<path d="M382.6 965.4V973.1M387.9 965.4V973.1" stroke="#fff" stroke-opacity="0.6" stroke-width="0.5" fill="none"/>
<path d="M385.6 965.4V973.1M390.5 965.4V973.1M393.4 965.4V973.1M395.9 965.4V973.1M398.7 965.4V973.1M401.2 965.4V973.1" stroke="#fff" stroke-opacity="0.7" stroke-width="0.6" fill="none"/>
<text x="305.4" y="989" transform="rotate(0.03 305.4 989)" font-size="7.8" fill="#000" stroke="#000" stroke-width="0.36" textLength="144" lengthAdjust="spacingAndGlyphs">Voting proportion right-wing conservative</text>
<text transform="translate(247.8 857.6) rotate(-90)" font-size="7.8" fill="#000" stroke="#000" stroke-width="0.36" text-anchor="middle" textLength="35.5" lengthAdjust="spacingAndGlyphs">Odds ratio</text>
</g>
</svg>
</body></html>
